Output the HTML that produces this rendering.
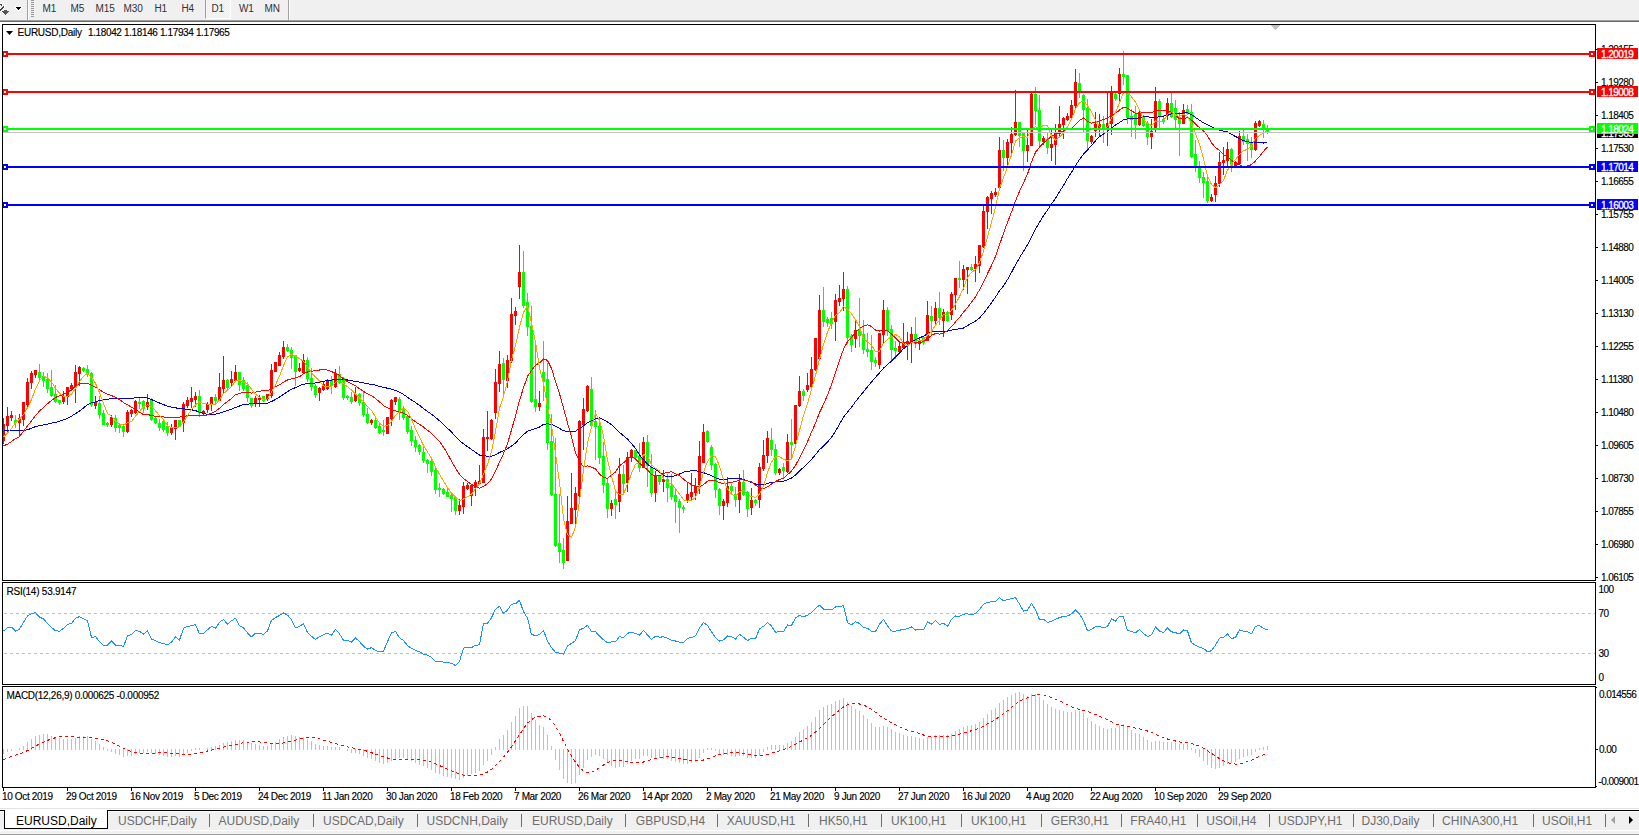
<!DOCTYPE html>
<html><head><meta charset="utf-8"><style>
*{margin:0;padding:0;box-sizing:border-box}
html,body{width:1639px;height:838px;overflow:hidden;background:#fff;font-family:"Liberation Sans", sans-serif;}
.t{position:absolute;white-space:nowrap;line-height:12px;-webkit-text-stroke:0.15px currentColor}
.lb{position:absolute;left:1597px;width:41px;height:11px;color:#fff;font-size:10px;line-height:11px;padding-left:4px;padding-top:1px;letter-spacing:-0.56px;white-space:nowrap;-webkit-text-stroke:0.3px #fff}
#tb{position:absolute;left:0;top:0;width:1639px;height:21px;background:#f0f0f0;border-bottom:1px solid #a0a0a0}
#tb2{position:absolute;left:0;top:21px;width:1639px;height:1px;background:#696969}
.tf{position:absolute;top:0;font-size:10px;line-height:12px;color:#333;letter-spacing:-0.1px}
#tabs{position:absolute;left:0;top:808px;width:1639px;height:30px;background:#f0f0f0}
.tab{position:absolute;top:814px;font-size:12px;line-height:14px;color:#6d6d6d;white-space:nowrap}
.sep{position:absolute;top:814px;width:1px;height:13px;background:#6d6d6d}
</style></head><body>
<div id="tb"></div><div id="tb2"></div>
<div style="position:absolute;left:27px;top:0;width:1px;height:20px;background:#a0a0a0"></div><div style="position:absolute;left:28px;top:0;width:1px;height:20px;background:#fff"></div><div style="position:absolute;left:31px;top:0px;width:3px;height:1px;background:#999"></div><div style="position:absolute;left:31px;top:2px;width:3px;height:1px;background:#999"></div><div style="position:absolute;left:31px;top:4px;width:3px;height:1px;background:#999"></div><div style="position:absolute;left:31px;top:6px;width:3px;height:1px;background:#999"></div><div style="position:absolute;left:31px;top:8px;width:3px;height:1px;background:#999"></div><div style="position:absolute;left:31px;top:10px;width:3px;height:1px;background:#999"></div><div style="position:absolute;left:31px;top:12px;width:3px;height:1px;background:#999"></div><div style="position:absolute;left:31px;top:14px;width:3px;height:1px;background:#999"></div><div style="position:absolute;left:31px;top:16px;width:3px;height:1px;background:#999"></div><div style="position:absolute;left:288px;top:0;width:1px;height:20px;background:#a0a0a0"></div><div style="position:absolute;left:289px;top:0;width:1px;height:20px;background:#fff"></div><div style="position:absolute;left:205px;top:0;width:26px;height:19px;border-left:1px solid #a0a0a0;border-right:1px solid #fff;border-bottom:1px solid #fff;background:repeating-conic-gradient(#f8f8f8 0 25%,#ececec 0 50%) 0 0/2px 2px"></div><div class="tf" style="left:42.5px;top:3px">M1</div><div class="tf" style="left:70.5px;top:3px">M5</div><div class="tf" style="left:95.5px;top:3px">M15</div><div class="tf" style="left:123.5px;top:3px">M30</div><div class="tf" style="left:154.5px;top:3px">H1</div><div class="tf" style="left:181.5px;top:3px">H4</div><div class="tf" style="left:211.5px;top:3px">D1</div><div class="tf" style="left:239.0px;top:3px">W1</div><div class="tf" style="left:264.5px;top:3px">MN</div><svg style="position:absolute;left:0;top:0" width="26" height="20" shape-rendering="crispEdges"><g fill="#fff"><rect x="15" y="6" width="7" height="1"/><rect x="15" y="7" width="1" height="2"/><rect x="21" y="7" width="1" height="2"/><rect x="16" y="9" width="1" height="1"/><rect x="20" y="9" width="1" height="1"/><rect x="17" y="10" width="3" height="1"/></g><g fill="#000"><rect x="16" y="7" width="5" height="1"/><rect x="17" y="8" width="3" height="1"/><rect x="18" y="9" width="1" height="1"/></g><g fill="#fff"><rect x="0" y="3" width="2" height="1"/><rect x="2" y="4" width="1" height="1"/><rect x="4" y="5" width="1" height="3"/></g><g fill="#444"><rect x="0" y="4" width="2" height="1"/><rect x="1" y="5" width="1" height="1"/><rect x="3" y="6" width="1" height="1"/><rect x="2" y="7" width="2" height="1"/><rect x="1" y="8" width="2" height="1"/><rect x="0" y="9" width="2" height="1"/><rect x="0" y="10" width="1" height="1"/></g><g fill="#555"><rect x="4" y="10" width="3" height="1"/><rect x="2" y="11" width="7" height="1"/><rect x="3" y="12" width="5" height="1"/><rect x="4" y="13" width="3" height="1"/><rect x="5" y="14" width="1" height="1"/></g></svg><svg width="1639" height="838" viewBox="0 0 1639 838" style="position:absolute;left:0;top:0"><defs><clipPath id="cm"><rect x="3" y="25" width="1592" height="555"/></clipPath><clipPath id="cr"><rect x="3" y="583" width="1592" height="101"/></clipPath><clipPath id="cd"><rect x="3" y="687" width="1592" height="100"/></clipPath></defs><g clip-path="url(#cm)" shape-rendering="crispEdges"><rect x="3" y="418" width="1" height="26" fill="#ff0000"/><rect x="2" y="424" width="3" height="17" fill="#ff0000"/><rect x="7" y="407" width="1" height="25" fill="#ff0000"/><rect x="6" y="416" width="3" height="10" fill="#ff0000"/><rect x="11" y="411" width="1" height="10" fill="#ff0000"/><rect x="10" y="415" width="3" height="3" fill="#ff0000"/><rect x="15" y="415" width="1" height="13" fill="#00ff00"/><rect x="14" y="420" width="3" height="3" fill="#00ff00"/><rect x="19" y="414" width="1" height="22" fill="#ff0000"/><rect x="18" y="418" width="3" height="5" fill="#ff0000"/><rect x="23" y="402" width="1" height="24" fill="#ff0000"/><rect x="22" y="402" width="3" height="18" fill="#ff0000"/><rect x="27" y="378" width="1" height="29" fill="#ff0000"/><rect x="26" y="382" width="3" height="23" fill="#ff0000"/><rect x="31" y="371" width="1" height="18" fill="#ff0000"/><rect x="30" y="373" width="3" height="10" fill="#ff0000"/><rect x="35" y="370" width="1" height="8" fill="#ff0000"/><rect x="34" y="370" width="3" height="5" fill="#ff0000"/><rect x="39" y="364" width="1" height="17" fill="#00ff00"/><rect x="38" y="372" width="3" height="6" fill="#00ff00"/><rect x="43" y="372" width="1" height="15" fill="#00ff00"/><rect x="42" y="376" width="3" height="5" fill="#00ff00"/><rect x="47" y="373" width="1" height="20" fill="#00ff00"/><rect x="46" y="379" width="3" height="10" fill="#00ff00"/><rect x="51" y="370" width="1" height="27" fill="#00ff00"/><rect x="50" y="387" width="3" height="9" fill="#00ff00"/><rect x="55" y="385" width="1" height="18" fill="#00ff00"/><rect x="54" y="394" width="3" height="8" fill="#00ff00"/><rect x="59" y="400" width="1" height="5" fill="#00ff00"/><rect x="58" y="400" width="3" height="3" fill="#00ff00"/><rect x="63" y="391" width="1" height="13" fill="#ff0000"/><rect x="62" y="396" width="3" height="6" fill="#ff0000"/><rect x="67" y="387" width="1" height="18" fill="#ff0000"/><rect x="66" y="387" width="3" height="10" fill="#ff0000"/><rect x="71" y="383" width="1" height="8" fill="#ff0000"/><rect x="70" y="385" width="3" height="4" fill="#ff0000"/><rect x="75" y="365" width="1" height="38" fill="#ff0000"/><rect x="74" y="372" width="3" height="15" fill="#ff0000"/><rect x="79" y="366" width="1" height="20" fill="#ff0000"/><rect x="78" y="367" width="3" height="7" fill="#ff0000"/><rect x="83" y="367" width="1" height="5" fill="#00ff00"/><rect x="82" y="368" width="3" height="3" fill="#00ff00"/><rect x="87" y="365" width="1" height="12" fill="#00ff00"/><rect x="86" y="369" width="3" height="5" fill="#00ff00"/><rect x="91" y="372" width="1" height="35" fill="#00ff00"/><rect x="90" y="373" width="3" height="32" fill="#00ff00"/><rect x="95" y="396" width="1" height="13" fill="#ff0000"/><rect x="94" y="402" width="3" height="4" fill="#ff0000"/><rect x="99" y="396" width="1" height="23" fill="#00ff00"/><rect x="98" y="403" width="3" height="12" fill="#00ff00"/><rect x="103" y="410" width="1" height="15" fill="#00ff00"/><rect x="102" y="413" width="3" height="12" fill="#00ff00"/><rect x="107" y="422" width="1" height="5" fill="#00ff00"/><rect x="106" y="423" width="3" height="2" fill="#00ff00"/><rect x="111" y="415" width="1" height="12" fill="#ff0000"/><rect x="110" y="417" width="3" height="8" fill="#ff0000"/><rect x="115" y="415" width="1" height="17" fill="#00ff00"/><rect x="114" y="418" width="3" height="10" fill="#00ff00"/><rect x="119" y="423" width="1" height="10" fill="#00ff00"/><rect x="118" y="425" width="3" height="3" fill="#00ff00"/><rect x="123" y="424" width="1" height="13" fill="#00ff00"/><rect x="122" y="426" width="3" height="6" fill="#00ff00"/><rect x="127" y="410" width="1" height="23" fill="#ff0000"/><rect x="126" y="412" width="3" height="20" fill="#ff0000"/><rect x="131" y="409" width="1" height="8" fill="#ff0000"/><rect x="130" y="410" width="3" height="4" fill="#ff0000"/><rect x="135" y="400" width="1" height="14" fill="#ff0000"/><rect x="134" y="401" width="3" height="12" fill="#ff0000"/><rect x="139" y="398" width="1" height="11" fill="#00ff00"/><rect x="138" y="402" width="3" height="2" fill="#00ff00"/><rect x="143" y="400" width="1" height="13" fill="#00ff00"/><rect x="142" y="401" width="3" height="8" fill="#00ff00"/><rect x="147" y="394" width="1" height="16" fill="#ff0000"/><rect x="146" y="402" width="3" height="5" fill="#ff0000"/><rect x="151" y="398" width="1" height="23" fill="#00ff00"/><rect x="150" y="399" width="3" height="21" fill="#00ff00"/><rect x="155" y="417" width="1" height="7" fill="#00ff00"/><rect x="154" y="418" width="3" height="5" fill="#00ff00"/><rect x="159" y="419" width="1" height="12" fill="#00ff00"/><rect x="158" y="423" width="3" height="5" fill="#00ff00"/><rect x="163" y="419" width="1" height="13" fill="#00ff00"/><rect x="162" y="421" width="3" height="9" fill="#00ff00"/><rect x="167" y="422" width="1" height="14" fill="#00ff00"/><rect x="166" y="426" width="3" height="7" fill="#00ff00"/><rect x="171" y="424" width="1" height="11" fill="#ff0000"/><rect x="170" y="428" width="3" height="5" fill="#ff0000"/><rect x="175" y="420" width="1" height="20" fill="#ff0000"/><rect x="174" y="420" width="3" height="9" fill="#ff0000"/><rect x="179" y="420" width="1" height="7" fill="#00ff00"/><rect x="178" y="420" width="3" height="7" fill="#00ff00"/><rect x="183" y="402" width="1" height="30" fill="#ff0000"/><rect x="182" y="404" width="3" height="19" fill="#ff0000"/><rect x="187" y="397" width="1" height="11" fill="#ff0000"/><rect x="186" y="400" width="3" height="6" fill="#ff0000"/><rect x="191" y="387" width="1" height="21" fill="#ff0000"/><rect x="190" y="398" width="3" height="4" fill="#ff0000"/><rect x="195" y="392" width="1" height="15" fill="#ff0000"/><rect x="194" y="396" width="3" height="4" fill="#ff0000"/><rect x="199" y="390" width="1" height="27" fill="#00ff00"/><rect x="198" y="396" width="3" height="17" fill="#00ff00"/><rect x="203" y="410" width="1" height="5" fill="#ff0000"/><rect x="202" y="411" width="3" height="3" fill="#ff0000"/><rect x="207" y="402" width="1" height="11" fill="#ff0000"/><rect x="206" y="404" width="3" height="6" fill="#ff0000"/><rect x="211" y="397" width="1" height="14" fill="#ff0000"/><rect x="210" y="397" width="3" height="8" fill="#ff0000"/><rect x="215" y="394" width="1" height="11" fill="#00ff00"/><rect x="214" y="397" width="3" height="4" fill="#00ff00"/><rect x="219" y="373" width="1" height="28" fill="#ff0000"/><rect x="218" y="387" width="3" height="14" fill="#ff0000"/><rect x="223" y="356" width="1" height="38" fill="#ff0000"/><rect x="222" y="380" width="3" height="9" fill="#ff0000"/><rect x="227" y="379" width="1" height="12" fill="#00ff00"/><rect x="226" y="380" width="3" height="8" fill="#00ff00"/><rect x="231" y="371" width="1" height="16" fill="#ff0000"/><rect x="230" y="379" width="3" height="4" fill="#ff0000"/><rect x="235" y="365" width="1" height="17" fill="#ff0000"/><rect x="234" y="372" width="3" height="9" fill="#ff0000"/><rect x="239" y="372" width="1" height="19" fill="#00ff00"/><rect x="238" y="372" width="3" height="13" fill="#00ff00"/><rect x="243" y="377" width="1" height="14" fill="#00ff00"/><rect x="242" y="380" width="3" height="9" fill="#00ff00"/><rect x="247" y="382" width="1" height="20" fill="#00ff00"/><rect x="246" y="385" width="3" height="13" fill="#00ff00"/><rect x="251" y="398" width="1" height="10" fill="#00ff00"/><rect x="250" y="398" width="3" height="8" fill="#00ff00"/><rect x="255" y="396" width="1" height="11" fill="#ff0000"/><rect x="254" y="398" width="3" height="5" fill="#ff0000"/><rect x="259" y="395" width="1" height="12" fill="#ff0000"/><rect x="258" y="398" width="3" height="2" fill="#ff0000"/><rect x="263" y="396" width="1" height="6" fill="#00ff00"/><rect x="262" y="396" width="3" height="5" fill="#00ff00"/><rect x="267" y="394" width="1" height="7" fill="#ff0000"/><rect x="266" y="394" width="3" height="5" fill="#ff0000"/><rect x="271" y="364" width="1" height="34" fill="#ff0000"/><rect x="270" y="370" width="3" height="26" fill="#ff0000"/><rect x="275" y="362" width="1" height="10" fill="#ff0000"/><rect x="274" y="362" width="3" height="10" fill="#ff0000"/><rect x="279" y="352" width="1" height="14" fill="#ff0000"/><rect x="278" y="355" width="3" height="11" fill="#ff0000"/><rect x="283" y="341" width="1" height="18" fill="#ff0000"/><rect x="282" y="347" width="3" height="10" fill="#ff0000"/><rect x="287" y="344" width="1" height="8" fill="#00ff00"/><rect x="286" y="347" width="3" height="4" fill="#00ff00"/><rect x="291" y="347" width="1" height="22" fill="#00ff00"/><rect x="290" y="350" width="3" height="8" fill="#00ff00"/><rect x="295" y="355" width="1" height="31" fill="#00ff00"/><rect x="294" y="355" width="3" height="17" fill="#00ff00"/><rect x="299" y="363" width="1" height="9" fill="#ff0000"/><rect x="298" y="368" width="3" height="3" fill="#ff0000"/><rect x="303" y="354" width="1" height="20" fill="#ff0000"/><rect x="302" y="360" width="3" height="13" fill="#ff0000"/><rect x="307" y="357" width="1" height="25" fill="#00ff00"/><rect x="306" y="360" width="3" height="19" fill="#00ff00"/><rect x="311" y="368" width="1" height="23" fill="#00ff00"/><rect x="310" y="378" width="3" height="9" fill="#00ff00"/><rect x="315" y="384" width="1" height="14" fill="#00ff00"/><rect x="314" y="386" width="3" height="9" fill="#00ff00"/><rect x="319" y="387" width="1" height="14" fill="#ff0000"/><rect x="318" y="388" width="3" height="5" fill="#ff0000"/><rect x="323" y="382" width="1" height="9" fill="#ff0000"/><rect x="322" y="384" width="3" height="6" fill="#ff0000"/><rect x="327" y="379" width="1" height="11" fill="#ff0000"/><rect x="326" y="381" width="3" height="8" fill="#ff0000"/><rect x="331" y="376" width="1" height="18" fill="#00ff00"/><rect x="330" y="380" width="3" height="6" fill="#00ff00"/><rect x="335" y="369" width="1" height="19" fill="#ff0000"/><rect x="334" y="373" width="3" height="14" fill="#ff0000"/><rect x="339" y="366" width="1" height="18" fill="#00ff00"/><rect x="338" y="374" width="3" height="9" fill="#00ff00"/><rect x="343" y="377" width="1" height="23" fill="#00ff00"/><rect x="342" y="378" width="3" height="20" fill="#00ff00"/><rect x="347" y="395" width="1" height="5" fill="#00ff00"/><rect x="346" y="396" width="3" height="2" fill="#00ff00"/><rect x="351" y="392" width="1" height="12" fill="#00ff00"/><rect x="350" y="397" width="3" height="5" fill="#00ff00"/><rect x="355" y="387" width="1" height="15" fill="#ff0000"/><rect x="354" y="394" width="3" height="7" fill="#ff0000"/><rect x="359" y="393" width="1" height="13" fill="#00ff00"/><rect x="358" y="394" width="3" height="9" fill="#00ff00"/><rect x="363" y="391" width="1" height="26" fill="#00ff00"/><rect x="362" y="402" width="3" height="13" fill="#00ff00"/><rect x="367" y="408" width="1" height="16" fill="#00ff00"/><rect x="366" y="414" width="3" height="9" fill="#00ff00"/><rect x="371" y="419" width="1" height="6" fill="#ff0000"/><rect x="370" y="420" width="3" height="3" fill="#ff0000"/><rect x="375" y="418" width="1" height="11" fill="#00ff00"/><rect x="374" y="420" width="3" height="8" fill="#00ff00"/><rect x="379" y="423" width="1" height="11" fill="#00ff00"/><rect x="378" y="426" width="3" height="7" fill="#00ff00"/><rect x="383" y="420" width="1" height="16" fill="#00ff00"/><rect x="382" y="430" width="3" height="2" fill="#00ff00"/><rect x="387" y="417" width="1" height="17" fill="#ff0000"/><rect x="386" y="417" width="3" height="17" fill="#ff0000"/><rect x="391" y="399" width="1" height="27" fill="#ff0000"/><rect x="390" y="400" width="3" height="19" fill="#ff0000"/><rect x="395" y="397" width="1" height="8" fill="#ff0000"/><rect x="394" y="397" width="3" height="5" fill="#ff0000"/><rect x="399" y="397" width="1" height="23" fill="#00ff00"/><rect x="398" y="399" width="3" height="13" fill="#00ff00"/><rect x="403" y="406" width="1" height="14" fill="#00ff00"/><rect x="402" y="409" width="3" height="9" fill="#00ff00"/><rect x="407" y="415" width="1" height="19" fill="#00ff00"/><rect x="406" y="416" width="3" height="16" fill="#00ff00"/><rect x="411" y="426" width="1" height="20" fill="#00ff00"/><rect x="410" y="430" width="3" height="11" fill="#00ff00"/><rect x="415" y="436" width="1" height="16" fill="#00ff00"/><rect x="414" y="440" width="3" height="7" fill="#00ff00"/><rect x="419" y="444" width="1" height="11" fill="#00ff00"/><rect x="418" y="445" width="3" height="7" fill="#00ff00"/><rect x="423" y="447" width="1" height="16" fill="#00ff00"/><rect x="422" y="452" width="3" height="9" fill="#00ff00"/><rect x="427" y="459" width="1" height="14" fill="#00ff00"/><rect x="426" y="460" width="3" height="4" fill="#00ff00"/><rect x="431" y="458" width="1" height="18" fill="#00ff00"/><rect x="430" y="461" width="3" height="11" fill="#00ff00"/><rect x="435" y="468" width="1" height="26" fill="#00ff00"/><rect x="434" y="470" width="3" height="20" fill="#00ff00"/><rect x="439" y="483" width="1" height="14" fill="#00ff00"/><rect x="438" y="488" width="3" height="2" fill="#00ff00"/><rect x="443" y="488" width="1" height="7" fill="#00ff00"/><rect x="442" y="489" width="3" height="5" fill="#00ff00"/><rect x="447" y="487" width="1" height="10" fill="#00ff00"/><rect x="446" y="492" width="3" height="5" fill="#00ff00"/><rect x="451" y="493" width="1" height="19" fill="#00ff00"/><rect x="450" y="495" width="3" height="4" fill="#00ff00"/><rect x="455" y="496" width="1" height="19" fill="#00ff00"/><rect x="454" y="497" width="3" height="14" fill="#00ff00"/><rect x="459" y="499" width="1" height="16" fill="#ff0000"/><rect x="458" y="505" width="3" height="6" fill="#ff0000"/><rect x="463" y="482" width="1" height="32" fill="#ff0000"/><rect x="462" y="486" width="3" height="21" fill="#ff0000"/><rect x="467" y="483" width="1" height="7" fill="#ff0000"/><rect x="466" y="485" width="3" height="4" fill="#ff0000"/><rect x="471" y="484" width="1" height="22" fill="#ff0000"/><rect x="470" y="485" width="3" height="11" fill="#ff0000"/><rect x="475" y="480" width="1" height="16" fill="#ff0000"/><rect x="474" y="482" width="3" height="6" fill="#ff0000"/><rect x="479" y="465" width="1" height="19" fill="#ff0000"/><rect x="478" y="481" width="3" height="3" fill="#ff0000"/><rect x="483" y="429" width="1" height="54" fill="#ff0000"/><rect x="482" y="437" width="3" height="46" fill="#ff0000"/><rect x="487" y="411" width="1" height="40" fill="#ff0000"/><rect x="486" y="437" width="3" height="2" fill="#ff0000"/><rect x="491" y="419" width="1" height="21" fill="#ff0000"/><rect x="490" y="420" width="3" height="19" fill="#ff0000"/><rect x="495" y="369" width="1" height="50" fill="#ff0000"/><rect x="494" y="382" width="3" height="31" fill="#ff0000"/><rect x="499" y="351" width="1" height="41" fill="#ff0000"/><rect x="498" y="364" width="3" height="20" fill="#ff0000"/><rect x="503" y="358" width="1" height="38" fill="#00ff00"/><rect x="502" y="363" width="3" height="17" fill="#00ff00"/><rect x="507" y="355" width="1" height="33" fill="#ff0000"/><rect x="506" y="360" width="3" height="21" fill="#ff0000"/><rect x="511" y="298" width="1" height="65" fill="#ff0000"/><rect x="510" y="314" width="3" height="47" fill="#ff0000"/><rect x="515" y="307" width="1" height="18" fill="#ff0000"/><rect x="514" y="311" width="3" height="5" fill="#ff0000"/><rect x="519" y="245" width="1" height="54" fill="#ff0000"/><rect x="518" y="272" width="3" height="15" fill="#ff0000"/><rect x="523" y="251" width="1" height="57" fill="#00ff00"/><rect x="522" y="272" width="3" height="34" fill="#00ff00"/><rect x="527" y="293" width="1" height="43" fill="#00ff00"/><rect x="526" y="302" width="3" height="25" fill="#00ff00"/><rect x="531" y="306" width="1" height="97" fill="#00ff00"/><rect x="530" y="326" width="3" height="76" fill="#00ff00"/><rect x="535" y="345" width="1" height="67" fill="#00ff00"/><rect x="534" y="399" width="3" height="8" fill="#00ff00"/><rect x="539" y="391" width="1" height="20" fill="#ff0000"/><rect x="538" y="403" width="3" height="4" fill="#ff0000"/><rect x="543" y="341" width="1" height="60" fill="#00ff00"/><rect x="542" y="372" width="3" height="10" fill="#00ff00"/><rect x="547" y="363" width="1" height="87" fill="#00ff00"/><rect x="546" y="379" width="3" height="64" fill="#00ff00"/><rect x="551" y="414" width="1" height="82" fill="#00ff00"/><rect x="550" y="441" width="3" height="54" fill="#00ff00"/><rect x="555" y="438" width="1" height="109" fill="#00ff00"/><rect x="554" y="494" width="3" height="52" fill="#00ff00"/><rect x="559" y="494" width="1" height="69" fill="#00ff00"/><rect x="558" y="543" width="3" height="9" fill="#00ff00"/><rect x="563" y="538" width="1" height="31" fill="#00ff00"/><rect x="562" y="550" width="3" height="13" fill="#00ff00"/><rect x="567" y="496" width="1" height="65" fill="#ff0000"/><rect x="566" y="521" width="3" height="40" fill="#ff0000"/><rect x="571" y="473" width="1" height="51" fill="#ff0000"/><rect x="570" y="508" width="3" height="16" fill="#ff0000"/><rect x="575" y="487" width="1" height="38" fill="#ff0000"/><rect x="574" y="493" width="3" height="17" fill="#ff0000"/><rect x="579" y="420" width="1" height="78" fill="#ff0000"/><rect x="578" y="421" width="3" height="75" fill="#ff0000"/><rect x="583" y="398" width="1" height="52" fill="#ff0000"/><rect x="582" y="409" width="3" height="16" fill="#ff0000"/><rect x="587" y="385" width="1" height="27" fill="#ff0000"/><rect x="586" y="386" width="3" height="25" fill="#ff0000"/><rect x="591" y="377" width="1" height="50" fill="#00ff00"/><rect x="590" y="389" width="3" height="37" fill="#00ff00"/><rect x="595" y="410" width="1" height="50" fill="#00ff00"/><rect x="594" y="421" width="3" height="6" fill="#00ff00"/><rect x="599" y="418" width="1" height="46" fill="#00ff00"/><rect x="598" y="426" width="3" height="32" fill="#00ff00"/><rect x="603" y="442" width="1" height="51" fill="#00ff00"/><rect x="602" y="456" width="3" height="29" fill="#00ff00"/><rect x="607" y="479" width="1" height="39" fill="#00ff00"/><rect x="606" y="483" width="3" height="26" fill="#00ff00"/><rect x="611" y="500" width="1" height="16" fill="#ff0000"/><rect x="610" y="503" width="3" height="6" fill="#ff0000"/><rect x="615" y="492" width="1" height="27" fill="#00ff00"/><rect x="614" y="499" width="3" height="6" fill="#00ff00"/><rect x="619" y="458" width="1" height="54" fill="#ff0000"/><rect x="618" y="474" width="3" height="28" fill="#ff0000"/><rect x="623" y="465" width="1" height="28" fill="#00ff00"/><rect x="622" y="474" width="3" height="10" fill="#00ff00"/><rect x="627" y="452" width="1" height="40" fill="#ff0000"/><rect x="626" y="457" width="3" height="26" fill="#ff0000"/><rect x="631" y="449" width="1" height="13" fill="#ff0000"/><rect x="630" y="450" width="3" height="8" fill="#ff0000"/><rect x="635" y="450" width="1" height="8" fill="#00ff00"/><rect x="634" y="450" width="3" height="8" fill="#00ff00"/><rect x="639" y="443" width="1" height="29" fill="#00ff00"/><rect x="638" y="456" width="3" height="12" fill="#00ff00"/><rect x="643" y="437" width="1" height="31" fill="#ff0000"/><rect x="642" y="442" width="3" height="26" fill="#ff0000"/><rect x="647" y="435" width="1" height="52" fill="#00ff00"/><rect x="646" y="442" width="3" height="24" fill="#00ff00"/><rect x="651" y="454" width="1" height="43" fill="#00ff00"/><rect x="650" y="467" width="3" height="26" fill="#00ff00"/><rect x="655" y="471" width="1" height="31" fill="#ff0000"/><rect x="654" y="475" width="3" height="18" fill="#ff0000"/><rect x="659" y="475" width="1" height="10" fill="#00ff00"/><rect x="658" y="476" width="3" height="6" fill="#00ff00"/><rect x="663" y="470" width="1" height="22" fill="#ff0000"/><rect x="662" y="479" width="3" height="3" fill="#ff0000"/><rect x="667" y="474" width="1" height="28" fill="#00ff00"/><rect x="666" y="479" width="3" height="9" fill="#00ff00"/><rect x="671" y="474" width="1" height="26" fill="#00ff00"/><rect x="670" y="486" width="3" height="11" fill="#00ff00"/><rect x="675" y="490" width="1" height="33" fill="#00ff00"/><rect x="674" y="495" width="3" height="7" fill="#00ff00"/><rect x="679" y="499" width="1" height="34" fill="#00ff00"/><rect x="678" y="501" width="3" height="7" fill="#00ff00"/><rect x="683" y="505" width="1" height="8" fill="#00ff00"/><rect x="682" y="507" width="3" height="2" fill="#00ff00"/><rect x="687" y="482" width="1" height="21" fill="#ff0000"/><rect x="686" y="494" width="3" height="7" fill="#ff0000"/><rect x="691" y="473" width="1" height="28" fill="#ff0000"/><rect x="690" y="492" width="3" height="5" fill="#ff0000"/><rect x="695" y="478" width="1" height="22" fill="#ff0000"/><rect x="694" y="486" width="3" height="7" fill="#ff0000"/><rect x="699" y="441" width="1" height="53" fill="#ff0000"/><rect x="698" y="456" width="3" height="29" fill="#ff0000"/><rect x="703" y="424" width="1" height="39" fill="#ff0000"/><rect x="702" y="432" width="3" height="31" fill="#ff0000"/><rect x="707" y="430" width="1" height="13" fill="#00ff00"/><rect x="706" y="431" width="3" height="11" fill="#00ff00"/><rect x="711" y="445" width="1" height="25" fill="#00ff00"/><rect x="710" y="447" width="3" height="18" fill="#00ff00"/><rect x="715" y="463" width="1" height="35" fill="#00ff00"/><rect x="714" y="464" width="3" height="26" fill="#00ff00"/><rect x="719" y="488" width="1" height="27" fill="#00ff00"/><rect x="718" y="489" width="3" height="17" fill="#00ff00"/><rect x="723" y="499" width="1" height="21" fill="#ff0000"/><rect x="722" y="501" width="3" height="5" fill="#ff0000"/><rect x="727" y="477" width="1" height="30" fill="#ff0000"/><rect x="726" y="486" width="3" height="17" fill="#ff0000"/><rect x="731" y="484" width="1" height="9" fill="#00ff00"/><rect x="730" y="486" width="3" height="5" fill="#00ff00"/><rect x="735" y="487" width="1" height="20" fill="#00ff00"/><rect x="734" y="494" width="3" height="6" fill="#00ff00"/><rect x="739" y="474" width="1" height="39" fill="#ff0000"/><rect x="738" y="482" width="3" height="18" fill="#ff0000"/><rect x="743" y="470" width="1" height="26" fill="#00ff00"/><rect x="742" y="482" width="3" height="13" fill="#00ff00"/><rect x="747" y="491" width="1" height="26" fill="#00ff00"/><rect x="746" y="492" width="3" height="17" fill="#00ff00"/><rect x="751" y="488" width="1" height="27" fill="#ff0000"/><rect x="750" y="500" width="3" height="8" fill="#ff0000"/><rect x="755" y="499" width="1" height="7" fill="#00ff00"/><rect x="754" y="500" width="3" height="3" fill="#00ff00"/><rect x="759" y="463" width="1" height="45" fill="#ff0000"/><rect x="758" y="467" width="3" height="33" fill="#ff0000"/><rect x="763" y="440" width="1" height="31" fill="#ff0000"/><rect x="762" y="455" width="3" height="14" fill="#ff0000"/><rect x="767" y="431" width="1" height="32" fill="#ff0000"/><rect x="766" y="438" width="3" height="18" fill="#ff0000"/><rect x="771" y="428" width="1" height="28" fill="#00ff00"/><rect x="770" y="440" width="3" height="10" fill="#00ff00"/><rect x="775" y="444" width="1" height="31" fill="#00ff00"/><rect x="774" y="449" width="3" height="24" fill="#00ff00"/><rect x="779" y="468" width="1" height="7" fill="#ff0000"/><rect x="778" y="469" width="3" height="4" fill="#ff0000"/><rect x="783" y="463" width="1" height="16" fill="#00ff00"/><rect x="782" y="467" width="3" height="4" fill="#00ff00"/><rect x="787" y="434" width="1" height="39" fill="#ff0000"/><rect x="786" y="442" width="3" height="30" fill="#ff0000"/><rect x="791" y="419" width="1" height="39" fill="#00ff00"/><rect x="790" y="442" width="3" height="3" fill="#00ff00"/><rect x="795" y="405" width="1" height="40" fill="#ff0000"/><rect x="794" y="405" width="3" height="39" fill="#ff0000"/><rect x="799" y="376" width="1" height="31" fill="#ff0000"/><rect x="798" y="391" width="3" height="15" fill="#ff0000"/><rect x="803" y="389" width="1" height="12" fill="#00ff00"/><rect x="802" y="391" width="3" height="5" fill="#00ff00"/><rect x="807" y="373" width="1" height="19" fill="#ff0000"/><rect x="806" y="385" width="3" height="5" fill="#ff0000"/><rect x="811" y="357" width="1" height="30" fill="#ff0000"/><rect x="810" y="369" width="3" height="18" fill="#ff0000"/><rect x="815" y="338" width="1" height="33" fill="#ff0000"/><rect x="814" y="338" width="3" height="32" fill="#ff0000"/><rect x="819" y="295" width="1" height="64" fill="#ff0000"/><rect x="818" y="310" width="3" height="49" fill="#ff0000"/><rect x="823" y="287" width="1" height="40" fill="#00ff00"/><rect x="822" y="310" width="3" height="12" fill="#00ff00"/><rect x="827" y="317" width="1" height="10" fill="#00ff00"/><rect x="826" y="319" width="3" height="4" fill="#00ff00"/><rect x="831" y="312" width="1" height="17" fill="#00ff00"/><rect x="830" y="318" width="3" height="6" fill="#00ff00"/><rect x="835" y="294" width="1" height="47" fill="#ff0000"/><rect x="834" y="300" width="3" height="22" fill="#ff0000"/><rect x="839" y="285" width="1" height="21" fill="#ff0000"/><rect x="838" y="298" width="3" height="4" fill="#ff0000"/><rect x="843" y="272" width="1" height="39" fill="#ff0000"/><rect x="842" y="289" width="3" height="10" fill="#ff0000"/><rect x="847" y="286" width="1" height="58" fill="#00ff00"/><rect x="846" y="289" width="3" height="49" fill="#00ff00"/><rect x="851" y="334" width="1" height="18" fill="#00ff00"/><rect x="850" y="336" width="3" height="9" fill="#00ff00"/><rect x="855" y="321" width="1" height="27" fill="#ff0000"/><rect x="854" y="330" width="3" height="9" fill="#ff0000"/><rect x="859" y="298" width="1" height="49" fill="#00ff00"/><rect x="858" y="329" width="3" height="7" fill="#00ff00"/><rect x="863" y="320" width="1" height="34" fill="#00ff00"/><rect x="862" y="334" width="3" height="16" fill="#00ff00"/><rect x="867" y="333" width="1" height="24" fill="#00ff00"/><rect x="866" y="349" width="3" height="3" fill="#00ff00"/><rect x="871" y="335" width="1" height="35" fill="#00ff00"/><rect x="870" y="350" width="3" height="12" fill="#00ff00"/><rect x="875" y="357" width="1" height="10" fill="#00ff00"/><rect x="874" y="360" width="3" height="3" fill="#00ff00"/><rect x="879" y="333" width="1" height="36" fill="#ff0000"/><rect x="878" y="333" width="3" height="32" fill="#ff0000"/><rect x="883" y="300" width="1" height="44" fill="#ff0000"/><rect x="882" y="310" width="3" height="25" fill="#ff0000"/><rect x="887" y="307" width="1" height="29" fill="#00ff00"/><rect x="886" y="310" width="3" height="21" fill="#00ff00"/><rect x="891" y="325" width="1" height="35" fill="#00ff00"/><rect x="890" y="329" width="3" height="21" fill="#00ff00"/><rect x="895" y="341" width="1" height="18" fill="#00ff00"/><rect x="894" y="348" width="3" height="3" fill="#00ff00"/><rect x="899" y="342" width="1" height="11" fill="#ff0000"/><rect x="898" y="346" width="3" height="6" fill="#ff0000"/><rect x="903" y="323" width="1" height="25" fill="#ff0000"/><rect x="902" y="343" width="3" height="5" fill="#ff0000"/><rect x="907" y="332" width="1" height="28" fill="#ff0000"/><rect x="906" y="341" width="3" height="3" fill="#ff0000"/><rect x="911" y="327" width="1" height="36" fill="#ff0000"/><rect x="910" y="334" width="3" height="9" fill="#ff0000"/><rect x="915" y="317" width="1" height="31" fill="#00ff00"/><rect x="914" y="334" width="3" height="10" fill="#00ff00"/><rect x="919" y="338" width="1" height="12" fill="#ff0000"/><rect x="918" y="340" width="3" height="4" fill="#ff0000"/><rect x="923" y="336" width="1" height="9" fill="#00ff00"/><rect x="922" y="337" width="3" height="6" fill="#00ff00"/><rect x="927" y="301" width="1" height="40" fill="#ff0000"/><rect x="926" y="315" width="3" height="26" fill="#ff0000"/><rect x="931" y="306" width="1" height="30" fill="#00ff00"/><rect x="930" y="316" width="3" height="5" fill="#00ff00"/><rect x="935" y="302" width="1" height="23" fill="#ff0000"/><rect x="934" y="308" width="3" height="13" fill="#ff0000"/><rect x="939" y="292" width="1" height="33" fill="#00ff00"/><rect x="938" y="308" width="3" height="10" fill="#00ff00"/><rect x="943" y="309" width="1" height="28" fill="#ff0000"/><rect x="942" y="312" width="3" height="9" fill="#ff0000"/><rect x="947" y="311" width="1" height="11" fill="#00ff00"/><rect x="946" y="312" width="3" height="9" fill="#00ff00"/><rect x="951" y="292" width="1" height="28" fill="#ff0000"/><rect x="950" y="294" width="3" height="21" fill="#ff0000"/><rect x="955" y="278" width="1" height="32" fill="#ff0000"/><rect x="954" y="278" width="3" height="17" fill="#ff0000"/><rect x="959" y="261" width="1" height="27" fill="#00ff00"/><rect x="958" y="278" width="3" height="2" fill="#00ff00"/><rect x="963" y="265" width="1" height="25" fill="#ff0000"/><rect x="962" y="269" width="3" height="11" fill="#ff0000"/><rect x="967" y="267" width="1" height="27" fill="#ff0000"/><rect x="966" y="267" width="3" height="3" fill="#ff0000"/><rect x="971" y="264" width="1" height="7" fill="#00ff00"/><rect x="970" y="267" width="3" height="3" fill="#00ff00"/><rect x="975" y="256" width="1" height="26" fill="#ff0000"/><rect x="974" y="264" width="3" height="5" fill="#ff0000"/><rect x="979" y="245" width="1" height="28" fill="#ff0000"/><rect x="978" y="245" width="3" height="21" fill="#ff0000"/><rect x="983" y="206" width="1" height="42" fill="#ff0000"/><rect x="982" y="211" width="3" height="36" fill="#ff0000"/><rect x="987" y="196" width="1" height="33" fill="#ff0000"/><rect x="986" y="197" width="3" height="15" fill="#ff0000"/><rect x="991" y="191" width="1" height="23" fill="#ff0000"/><rect x="990" y="193" width="3" height="6" fill="#ff0000"/><rect x="995" y="188" width="1" height="9" fill="#ff0000"/><rect x="994" y="192" width="3" height="3" fill="#ff0000"/><rect x="999" y="137" width="1" height="51" fill="#ff0000"/><rect x="998" y="150" width="3" height="38" fill="#ff0000"/><rect x="1003" y="140" width="1" height="31" fill="#00ff00"/><rect x="1002" y="150" width="3" height="8" fill="#00ff00"/><rect x="1007" y="139" width="1" height="27" fill="#ff0000"/><rect x="1006" y="142" width="3" height="16" fill="#ff0000"/><rect x="1011" y="127" width="1" height="28" fill="#ff0000"/><rect x="1010" y="134" width="3" height="9" fill="#ff0000"/><rect x="1015" y="90" width="1" height="46" fill="#ff0000"/><rect x="1014" y="122" width="3" height="13" fill="#ff0000"/><rect x="1019" y="122" width="1" height="25" fill="#00ff00"/><rect x="1018" y="122" width="3" height="14" fill="#00ff00"/><rect x="1023" y="132" width="1" height="39" fill="#00ff00"/><rect x="1022" y="133" width="3" height="18" fill="#00ff00"/><rect x="1027" y="129" width="1" height="33" fill="#ff0000"/><rect x="1026" y="145" width="3" height="6" fill="#ff0000"/><rect x="1031" y="93" width="1" height="53" fill="#ff0000"/><rect x="1030" y="94" width="3" height="52" fill="#ff0000"/><rect x="1035" y="87" width="1" height="38" fill="#00ff00"/><rect x="1034" y="94" width="3" height="17" fill="#00ff00"/><rect x="1039" y="95" width="1" height="53" fill="#00ff00"/><rect x="1038" y="110" width="3" height="31" fill="#00ff00"/><rect x="1043" y="136" width="1" height="9" fill="#ff0000"/><rect x="1042" y="138" width="3" height="4" fill="#ff0000"/><rect x="1047" y="132" width="1" height="22" fill="#00ff00"/><rect x="1046" y="139" width="3" height="9" fill="#00ff00"/><rect x="1051" y="130" width="1" height="31" fill="#ff0000"/><rect x="1050" y="144" width="3" height="4" fill="#ff0000"/><rect x="1055" y="124" width="1" height="41" fill="#ff0000"/><rect x="1054" y="132" width="3" height="13" fill="#ff0000"/><rect x="1059" y="106" width="1" height="31" fill="#ff0000"/><rect x="1058" y="124" width="3" height="10" fill="#ff0000"/><rect x="1063" y="117" width="1" height="22" fill="#ff0000"/><rect x="1062" y="118" width="3" height="7" fill="#ff0000"/><rect x="1067" y="113" width="1" height="8" fill="#ff0000"/><rect x="1066" y="116" width="3" height="4" fill="#ff0000"/><rect x="1071" y="100" width="1" height="19" fill="#ff0000"/><rect x="1070" y="105" width="3" height="13" fill="#ff0000"/><rect x="1075" y="69" width="1" height="41" fill="#ff0000"/><rect x="1074" y="82" width="3" height="24" fill="#ff0000"/><rect x="1079" y="73" width="1" height="25" fill="#00ff00"/><rect x="1078" y="83" width="3" height="10" fill="#00ff00"/><rect x="1083" y="94" width="1" height="38" fill="#00ff00"/><rect x="1082" y="95" width="3" height="15" fill="#00ff00"/><rect x="1087" y="99" width="1" height="50" fill="#00ff00"/><rect x="1086" y="108" width="3" height="33" fill="#00ff00"/><rect x="1091" y="135" width="1" height="9" fill="#ff0000"/><rect x="1090" y="136" width="3" height="6" fill="#ff0000"/><rect x="1095" y="112" width="1" height="25" fill="#ff0000"/><rect x="1094" y="124" width="3" height="7" fill="#ff0000"/><rect x="1099" y="114" width="1" height="23" fill="#ff0000"/><rect x="1098" y="124" width="3" height="5" fill="#ff0000"/><rect x="1103" y="116" width="1" height="27" fill="#00ff00"/><rect x="1102" y="124" width="3" height="4" fill="#00ff00"/><rect x="1107" y="93" width="1" height="53" fill="#ff0000"/><rect x="1106" y="123" width="3" height="6" fill="#ff0000"/><rect x="1111" y="86" width="1" height="49" fill="#ff0000"/><rect x="1110" y="92" width="3" height="32" fill="#ff0000"/><rect x="1115" y="93" width="1" height="8" fill="#00ff00"/><rect x="1114" y="94" width="3" height="5" fill="#00ff00"/><rect x="1119" y="68" width="1" height="33" fill="#ff0000"/><rect x="1118" y="74" width="3" height="20" fill="#ff0000"/><rect x="1123" y="51" width="1" height="34" fill="#00ff00"/><rect x="1122" y="74" width="3" height="3" fill="#00ff00"/><rect x="1127" y="75" width="1" height="49" fill="#00ff00"/><rect x="1126" y="75" width="3" height="43" fill="#00ff00"/><rect x="1131" y="109" width="1" height="28" fill="#00ff00"/><rect x="1130" y="116" width="3" height="4" fill="#00ff00"/><rect x="1135" y="106" width="1" height="33" fill="#00ff00"/><rect x="1134" y="114" width="3" height="11" fill="#00ff00"/><rect x="1139" y="111" width="1" height="15" fill="#ff0000"/><rect x="1138" y="112" width="3" height="13" fill="#ff0000"/><rect x="1143" y="115" width="1" height="12" fill="#00ff00"/><rect x="1142" y="116" width="3" height="10" fill="#00ff00"/><rect x="1147" y="121" width="1" height="24" fill="#00ff00"/><rect x="1146" y="123" width="3" height="14" fill="#00ff00"/><rect x="1151" y="119" width="1" height="30" fill="#ff0000"/><rect x="1150" y="131" width="3" height="6" fill="#ff0000"/><rect x="1155" y="87" width="1" height="46" fill="#ff0000"/><rect x="1154" y="101" width="3" height="28" fill="#ff0000"/><rect x="1159" y="99" width="1" height="30" fill="#00ff00"/><rect x="1158" y="101" width="3" height="16" fill="#00ff00"/><rect x="1163" y="115" width="1" height="9" fill="#00ff00"/><rect x="1162" y="119" width="3" height="3" fill="#00ff00"/><rect x="1167" y="98" width="1" height="22" fill="#ff0000"/><rect x="1166" y="103" width="3" height="13" fill="#ff0000"/><rect x="1171" y="93" width="1" height="25" fill="#00ff00"/><rect x="1170" y="103" width="3" height="14" fill="#00ff00"/><rect x="1175" y="100" width="1" height="29" fill="#00ff00"/><rect x="1174" y="108" width="3" height="12" fill="#00ff00"/><rect x="1179" y="112" width="1" height="44" fill="#00ff00"/><rect x="1178" y="117" width="3" height="7" fill="#00ff00"/><rect x="1183" y="104" width="1" height="20" fill="#ff0000"/><rect x="1182" y="110" width="3" height="14" fill="#ff0000"/><rect x="1187" y="105" width="1" height="10" fill="#00ff00"/><rect x="1186" y="109" width="3" height="5" fill="#00ff00"/><rect x="1191" y="104" width="1" height="54" fill="#00ff00"/><rect x="1190" y="112" width="3" height="45" fill="#00ff00"/><rect x="1195" y="140" width="1" height="32" fill="#00ff00"/><rect x="1194" y="154" width="3" height="13" fill="#00ff00"/><rect x="1199" y="161" width="1" height="22" fill="#00ff00"/><rect x="1198" y="167" width="3" height="11" fill="#00ff00"/><rect x="1203" y="172" width="1" height="26" fill="#00ff00"/><rect x="1202" y="177" width="3" height="6" fill="#00ff00"/><rect x="1207" y="177" width="1" height="26" fill="#00ff00"/><rect x="1206" y="181" width="3" height="20" fill="#00ff00"/><rect x="1211" y="194" width="1" height="8" fill="#ff0000"/><rect x="1210" y="197" width="3" height="4" fill="#ff0000"/><rect x="1215" y="176" width="1" height="26" fill="#ff0000"/><rect x="1214" y="183" width="3" height="12" fill="#ff0000"/><rect x="1219" y="152" width="1" height="35" fill="#ff0000"/><rect x="1218" y="162" width="3" height="22" fill="#ff0000"/><rect x="1223" y="147" width="1" height="28" fill="#ff0000"/><rect x="1222" y="160" width="3" height="3" fill="#ff0000"/><rect x="1227" y="142" width="1" height="24" fill="#ff0000"/><rect x="1226" y="149" width="3" height="12" fill="#ff0000"/><rect x="1231" y="148" width="1" height="24" fill="#00ff00"/><rect x="1230" y="149" width="3" height="17" fill="#00ff00"/><rect x="1235" y="161" width="1" height="6" fill="#ff0000"/><rect x="1234" y="162" width="3" height="4" fill="#ff0000"/><rect x="1239" y="131" width="1" height="34" fill="#ff0000"/><rect x="1238" y="136" width="3" height="28" fill="#ff0000"/><rect x="1243" y="130" width="1" height="15" fill="#00ff00"/><rect x="1242" y="136" width="3" height="6" fill="#00ff00"/><rect x="1247" y="134" width="1" height="27" fill="#00ff00"/><rect x="1246" y="139" width="3" height="5" fill="#00ff00"/><rect x="1251" y="137" width="1" height="21" fill="#00ff00"/><rect x="1250" y="143" width="3" height="7" fill="#00ff00"/><rect x="1255" y="121" width="1" height="30" fill="#ff0000"/><rect x="1254" y="123" width="3" height="27" fill="#ff0000"/><rect x="1259" y="120" width="1" height="7" fill="#ff0000"/><rect x="1258" y="121" width="3" height="5" fill="#ff0000"/><rect x="1263" y="120" width="1" height="18" fill="#00ff00"/><rect x="1262" y="124" width="3" height="6" fill="#00ff00"/><rect x="1267" y="125" width="1" height="9" fill="#00ff00"/><rect x="1266" y="129" width="3" height="4" fill="#00ff00"/></g><polyline clip-path="url(#cm)" points="3.5,430.9 7.5,430.9 11.5,430.9 15.5,430.9 19.5,430.9 23.5,430.4 27.5,429.7 31.5,428.3 35.5,426.6 39.5,425.8 43.5,424.9 47.5,424.1 51.5,423.2 55.5,422.3 59.5,421.3 63.5,419.8 67.5,418.3 71.5,416.1 75.5,413.6 79.5,411.1 83.5,407.9 87.5,404.6 91.5,402.9 95.5,401.8 99.5,400.7 103.5,399.8 107.5,399.2 111.5,398.7 115.5,398.1 119.5,398.5 123.5,398.7 127.5,398.6 131.5,398.4 135.5,397.7 139.5,397.2 143.5,397.4 147.5,398.1 151.5,399.6 155.5,401.3 159.5,403.0 163.5,404.6 167.5,406.1 171.5,407.2 175.5,407.8 179.5,408.6 183.5,408.9 187.5,409.3 191.5,409.8 195.5,410.6 199.5,412.1 203.5,413.4 207.5,414.5 211.5,414.2 215.5,414.2 219.5,413.3 223.5,411.8 227.5,410.6 231.5,409.3 235.5,407.5 239.5,406.0 243.5,404.6 247.5,404.1 251.5,403.9 255.5,403.8 259.5,403.7 263.5,403.4 267.5,403.1 271.5,401.5 275.5,399.5 279.5,397.1 283.5,394.4 287.5,391.6 291.5,389.3 295.5,387.6 299.5,385.7 303.5,384.2 307.5,383.5 311.5,383.1 315.5,383.0 319.5,382.2 323.5,381.3 327.5,380.6 331.5,380.2 335.5,379.3 339.5,379.1 343.5,379.7 347.5,380.0 351.5,380.7 355.5,381.5 359.5,382.1 363.5,382.9 367.5,383.8 371.5,384.3 375.5,385.2 379.5,386.4 383.5,387.4 387.5,388.2 391.5,389.2 395.5,390.3 399.5,392.2 403.5,394.5 407.5,397.2 411.5,400.0 415.5,402.5 419.5,405.3 423.5,408.6 427.5,411.4 431.5,414.3 435.5,417.4 439.5,420.8 443.5,424.4 447.5,428.3 451.5,432.0 455.5,436.6 459.5,440.7 463.5,443.7 467.5,446.6 471.5,449.4 475.5,452.3 479.5,455.0 483.5,455.7 487.5,456.2 491.5,456.2 495.5,454.7 499.5,452.5 503.5,450.7 507.5,448.8 511.5,446.0 515.5,443.1 519.5,438.5 523.5,434.7 527.5,431.2 531.5,429.9 535.5,428.6 539.5,427.0 543.5,424.4 547.5,423.7 551.5,424.4 555.5,426.3 559.5,428.4 563.5,430.7 567.5,431.5 571.5,431.8 575.5,431.3 579.5,428.5 583.5,425.9 587.5,422.6 591.5,420.6 595.5,418.7 599.5,417.9 603.5,419.5 607.5,421.9 611.5,424.6 615.5,428.7 619.5,432.4 623.5,435.8 627.5,439.1 631.5,443.6 635.5,448.5 639.5,455.0 643.5,459.5 647.5,464.2 651.5,467.2 655.5,469.5 659.5,472.1 663.5,475.4 667.5,476.9 671.5,476.9 675.5,475.5 679.5,474.0 683.5,472.2 687.5,471.3 691.5,470.8 695.5,470.5 699.5,471.7 703.5,472.5 707.5,474.3 711.5,475.6 715.5,477.7 719.5,479.3 723.5,479.9 727.5,479.1 731.5,478.7 735.5,478.5 739.5,478.8 743.5,479.2 747.5,480.9 751.5,482.5 755.5,484.0 759.5,484.0 763.5,484.5 767.5,483.6 771.5,482.1 775.5,482.0 779.5,481.6 783.5,481.3 787.5,479.8 791.5,478.1 795.5,474.9 799.5,471.0 803.5,467.3 807.5,463.6 811.5,459.5 815.5,454.6 819.5,449.7 823.5,446.0 827.5,442.1 831.5,437.4 835.5,431.1 839.5,424.2 843.5,417.1 847.5,412.1 851.5,407.3 855.5,401.6 859.5,396.7 863.5,391.9 867.5,386.7 871.5,382.0 875.5,377.4 879.5,372.9 883.5,368.1 887.5,364.5 891.5,361.1 895.5,357.1 899.5,353.0 903.5,348.7 907.5,345.4 911.5,341.7 915.5,339.6 919.5,337.9 923.5,336.2 927.5,333.8 931.5,332.2 935.5,331.2 939.5,331.4 943.5,331.1 947.5,331.1 951.5,330.1 955.5,329.4 959.5,328.7 963.5,328.1 967.5,325.7 971.5,323.2 975.5,321.0 979.5,318.0 983.5,313.4 987.5,308.3 991.5,302.7 995.5,297.0 999.5,290.9 1003.5,285.8 1007.5,279.6 1011.5,272.4 1015.5,264.8 1019.5,257.8 1023.5,251.3 1027.5,244.8 1031.5,236.8 1035.5,229.0 1039.5,222.4 1043.5,215.6 1047.5,210.0 1051.5,204.1 1055.5,198.2 1059.5,191.8 1063.5,185.3 1067.5,178.5 1071.5,172.2 1075.5,165.7 1079.5,159.5 1083.5,154.1 1087.5,149.9 1091.5,145.5 1095.5,140.8 1099.5,136.8 1103.5,134.0 1107.5,131.5 1111.5,128.1 1115.5,125.0 1119.5,122.5 1123.5,119.8 1127.5,118.9 1131.5,118.4 1135.5,118.5 1139.5,117.7 1143.5,116.9 1147.5,116.6 1151.5,117.8 1155.5,117.5 1159.5,116.7 1163.5,116.2 1167.5,114.7 1171.5,113.8 1175.5,113.3 1179.5,113.3 1183.5,113.0 1187.5,112.9 1191.5,114.6 1195.5,117.4 1199.5,120.3 1203.5,122.7 1207.5,124.7 1211.5,126.7 1215.5,128.7 1219.5,130.0 1223.5,131.1 1227.5,131.9 1231.5,134.4 1235.5,136.5 1239.5,138.6 1243.5,140.7 1247.5,141.6 1251.5,142.6 1255.5,142.6 1259.5,142.9 1263.5,143.0 1267.5,142.9" fill="none" stroke="#0000cd" stroke-width="1" shape-rendering="crispEdges" /><polyline clip-path="url(#cm)" points="3.5,445.8 7.5,444.2 11.5,441.5 15.5,438.6 19.5,436.6 23.5,431.2 27.5,425.9 31.5,420.8 35.5,415.6 39.5,411.1 43.5,407.4 47.5,403.7 51.5,400.4 55.5,397.4 59.5,395.8 63.5,394.4 67.5,392.4 71.5,389.7 75.5,386.4 79.5,383.9 83.5,383.1 87.5,383.1 91.5,385.5 95.5,387.3 99.5,389.7 103.5,392.3 107.5,394.4 111.5,395.5 115.5,397.3 119.5,399.5 123.5,402.6 127.5,404.6 131.5,407.3 135.5,409.7 139.5,412.1 143.5,414.6 147.5,414.4 151.5,415.6 155.5,416.2 159.5,416.4 163.5,416.8 167.5,417.9 171.5,417.9 175.5,417.4 179.5,417.1 183.5,416.5 187.5,415.8 191.5,415.6 195.5,415.1 199.5,415.4 203.5,416.0 207.5,414.9 211.5,413.1 215.5,411.2 219.5,408.2 223.5,404.5 227.5,401.6 231.5,398.6 235.5,394.8 239.5,393.4 243.5,392.5 247.5,392.4 251.5,393.1 255.5,392.1 259.5,391.1 263.5,390.9 267.5,390.6 271.5,388.5 275.5,386.7 279.5,384.9 283.5,382.1 287.5,380.0 291.5,378.9 295.5,378.0 299.5,376.6 303.5,373.9 307.5,372.0 311.5,371.1 315.5,370.9 319.5,370.0 323.5,369.3 327.5,370.1 331.5,371.7 335.5,373.0 339.5,375.5 343.5,378.9 347.5,381.7 351.5,383.9 355.5,385.7 359.5,388.7 363.5,391.3 367.5,393.9 371.5,395.7 375.5,398.5 379.5,401.9 383.5,405.5 387.5,407.8 391.5,409.7 395.5,410.8 399.5,411.8 403.5,413.2 407.5,415.4 411.5,418.6 415.5,421.8 419.5,424.4 423.5,427.1 427.5,430.2 431.5,433.4 435.5,437.4 439.5,441.6 443.5,447.0 447.5,453.9 451.5,461.1 455.5,468.1 459.5,474.4 463.5,478.4 467.5,481.6 471.5,484.4 475.5,486.6 479.5,488.1 483.5,486.2 487.5,483.8 491.5,478.9 495.5,471.2 499.5,462.0 503.5,453.6 507.5,443.8 511.5,429.8 515.5,415.9 519.5,400.6 523.5,387.8 527.5,376.4 531.5,370.6 535.5,365.3 539.5,362.9 543.5,358.9 547.5,360.4 551.5,368.4 555.5,381.4 559.5,393.6 563.5,408.1 567.5,422.9 571.5,436.9 575.5,452.7 579.5,461.0 583.5,466.9 587.5,465.9 591.5,467.2 595.5,468.9 599.5,474.3 603.5,477.3 607.5,478.3 611.5,475.3 615.5,471.9 619.5,465.6 623.5,462.9 627.5,459.3 631.5,456.2 635.5,458.8 639.5,462.9 643.5,466.9 647.5,469.8 651.5,474.5 655.5,475.8 659.5,475.6 663.5,473.5 667.5,472.4 671.5,471.8 675.5,473.7 679.5,475.4 683.5,479.1 687.5,482.2 691.5,484.7 695.5,486.1 699.5,487.1 703.5,484.7 707.5,481.1 711.5,480.3 715.5,480.9 719.5,482.7 723.5,483.7 727.5,483.0 731.5,482.2 735.5,481.6 739.5,479.8 743.5,479.8 747.5,480.9 751.5,481.9 755.5,485.2 759.5,487.7 763.5,488.7 767.5,486.9 771.5,484.0 775.5,481.6 779.5,479.4 783.5,478.2 787.5,474.8 791.5,470.9 795.5,465.4 799.5,458.0 803.5,449.9 807.5,441.7 811.5,432.2 815.5,423.0 819.5,412.6 823.5,404.3 827.5,395.2 831.5,384.6 835.5,372.5 839.5,360.2 843.5,349.3 847.5,341.6 851.5,337.3 855.5,332.9 859.5,328.6 863.5,326.1 867.5,324.8 871.5,326.4 875.5,330.1 879.5,331.0 883.5,330.1 887.5,330.6 891.5,334.1 895.5,337.9 899.5,341.9 903.5,342.4 907.5,342.1 911.5,342.4 915.5,343.0 919.5,342.4 923.5,341.7 927.5,338.4 931.5,335.4 935.5,333.6 939.5,334.1 943.5,332.9 947.5,330.8 951.5,326.8 955.5,321.9 959.5,317.4 963.5,312.2 967.5,307.4 971.5,302.1 975.5,296.7 979.5,289.8 983.5,282.4 987.5,273.6 991.5,265.4 995.5,256.4 999.5,244.9 1003.5,233.2 1007.5,222.4 1011.5,212.1 1015.5,200.9 1019.5,191.3 1023.5,182.9 1027.5,174.1 1031.5,161.9 1035.5,152.3 1039.5,147.2 1043.5,143.0 1047.5,139.7 1051.5,136.3 1055.5,135.0 1059.5,132.6 1063.5,130.9 1067.5,129.6 1071.5,128.4 1075.5,124.6 1079.5,120.5 1083.5,117.9 1087.5,121.2 1091.5,123.1 1095.5,121.9 1099.5,120.9 1103.5,119.5 1107.5,118.0 1111.5,115.1 1115.5,113.3 1119.5,110.1 1123.5,107.3 1127.5,108.1 1131.5,110.8 1135.5,113.1 1139.5,113.3 1143.5,112.2 1147.5,112.2 1151.5,112.7 1155.5,111.1 1159.5,110.3 1163.5,110.1 1167.5,110.9 1171.5,112.2 1175.5,115.4 1179.5,118.8 1183.5,118.3 1187.5,117.9 1191.5,120.1 1195.5,124.0 1199.5,127.7 1203.5,131.0 1207.5,135.9 1211.5,142.8 1215.5,147.6 1219.5,150.5 1223.5,154.6 1227.5,156.9 1231.5,160.2 1235.5,163.0 1239.5,164.9 1243.5,166.9 1247.5,165.9 1251.5,164.7 1255.5,160.9 1259.5,156.5 1263.5,151.4 1267.5,146.8" fill="none" stroke="#ff0000" stroke-width="1" shape-rendering="crispEdges" /><polyline clip-path="url(#cm)" points="3.5,436.9 7.5,433.0 11.5,428.4 15.5,422.9 19.5,419.0 23.5,414.6 27.5,407.8 31.5,399.4 35.5,389.0 39.5,380.8 43.5,376.4 47.5,377.6 51.5,382.0 55.5,388.2 59.5,393.2 63.5,396.4 67.5,396.2 71.5,394.2 75.5,388.4 79.5,381.4 83.5,376.2 87.5,373.4 91.5,377.2 95.5,383.2 99.5,392.6 103.5,403.4 107.5,413.6 111.5,416.2 115.5,421.2 119.5,423.8 123.5,425.2 127.5,422.8 131.5,421.4 135.5,416.2 139.5,411.4 143.5,406.8 147.5,404.8 151.5,406.6 155.5,410.8 159.5,415.6 163.5,419.8 167.5,425.8 171.5,427.6 175.5,427.2 179.5,427.0 183.5,422.0 187.5,415.6 191.5,409.6 195.5,404.8 199.5,402.0 203.5,403.4 207.5,404.2 211.5,404.0 215.5,404.8 219.5,399.8 223.5,393.6 227.5,390.2 231.5,386.6 235.5,381.0 239.5,380.4 243.5,382.0 247.5,384.0 251.5,389.2 255.5,394.4 259.5,397.2 263.5,399.6 267.5,399.0 271.5,392.0 275.5,384.8 279.5,376.2 283.5,365.6 287.5,356.8 291.5,354.2 295.5,356.0 299.5,358.6 303.5,361.2 307.5,366.8 311.5,372.6 315.5,377.2 319.5,381.2 323.5,386.0 327.5,386.6 331.5,386.4 335.5,382.2 339.5,381.0 343.5,383.6 347.5,386.8 351.5,390.0 355.5,394.2 359.5,398.2 363.5,401.6 367.5,406.6 371.5,410.4 375.5,417.0 379.5,423.0 383.5,426.4 387.5,425.4 391.5,421.4 395.5,415.4 399.5,411.2 403.5,408.4 407.5,411.2 411.5,419.2 415.5,429.0 419.5,437.0 423.5,445.6 427.5,452.0 431.5,458.2 435.5,466.8 439.5,474.4 443.5,481.0 447.5,487.6 451.5,493.0 455.5,497.2 459.5,500.4 463.5,499.0 467.5,496.8 471.5,494.2 475.5,488.6 479.5,483.8 483.5,474.0 487.5,464.4 491.5,451.4 495.5,431.4 499.5,408.0 503.5,396.4 507.5,381.0 511.5,359.8 515.5,345.6 519.5,327.2 523.5,312.4 527.5,305.6 531.5,323.0 535.5,342.0 539.5,368.2 543.5,383.4 547.5,406.6 551.5,425.2 555.5,453.0 559.5,482.6 563.5,518.8 567.5,534.6 571.5,537.4 575.5,527.0 579.5,501.0 583.5,470.4 587.5,443.4 591.5,426.8 595.5,413.4 599.5,420.6 603.5,435.6 607.5,460.0 611.5,475.6 615.5,491.2 619.5,494.6 623.5,494.4 627.5,484.2 631.5,473.6 635.5,464.2 639.5,462.8 643.5,454.6 647.5,456.2 651.5,464.6 655.5,468.2 659.5,471.0 663.5,478.4 667.5,482.8 671.5,483.6 675.5,488.8 679.5,494.0 683.5,499.8 687.5,501.2 691.5,500.4 695.5,497.4 699.5,487.2 703.5,472.0 707.5,461.4 711.5,455.8 715.5,456.4 719.5,466.2 723.5,480.0 727.5,489.0 731.5,494.2 735.5,496.2 739.5,491.6 743.5,490.2 747.5,494.6 751.5,496.6 755.5,497.2 759.5,494.2 763.5,486.4 767.5,472.4 771.5,462.2 775.5,456.2 779.5,456.6 783.5,459.6 787.5,460.4 791.5,459.4 795.5,446.0 799.5,430.4 803.5,415.4 807.5,404.0 811.5,389.0 815.5,375.6 819.5,359.4 823.5,344.6 827.5,332.0 831.5,322.8 835.5,315.2 839.5,312.8 843.5,306.4 847.5,309.4 851.5,313.6 855.5,319.6 859.5,327.0 863.5,339.0 867.5,341.8 871.5,345.2 875.5,351.6 879.5,351.2 883.5,343.4 887.5,339.2 891.5,336.8 895.5,334.4 899.5,337.0 903.5,343.6 907.5,345.8 911.5,342.8 915.5,341.4 919.5,340.2 923.5,340.0 927.5,334.8 931.5,332.0 935.5,325.0 939.5,320.4 943.5,314.4 947.5,315.4 951.5,310.2 955.5,304.2 959.5,296.6 963.5,288.0 967.5,277.4 971.5,272.4 975.5,269.6 979.5,262.8 983.5,251.2 987.5,237.2 991.5,222.0 995.5,207.6 999.5,188.6 1003.5,177.8 1007.5,166.8 1011.5,155.0 1015.5,141.0 1019.5,138.0 1023.5,136.6 1027.5,137.2 1031.5,129.2 1035.5,126.8 1039.5,127.8 1043.5,125.4 1047.5,125.8 1051.5,135.8 1055.5,140.2 1059.5,137.0 1063.5,133.0 1067.5,126.8 1071.5,119.0 1075.5,109.0 1079.5,102.6 1083.5,100.8 1087.5,105.6 1091.5,111.8 1095.5,120.2 1099.5,126.6 1103.5,130.2 1107.5,126.8 1111.5,118.0 1115.5,112.8 1119.5,102.8 1123.5,92.6 1127.5,91.4 1131.5,96.8 1135.5,102.0 1139.5,109.6 1143.5,119.4 1147.5,123.2 1151.5,125.6 1155.5,121.0 1159.5,121.8 1163.5,121.0 1167.5,114.4 1171.5,111.4 1175.5,115.0 1179.5,116.4 1183.5,114.2 1187.5,116.2 1191.5,124.2 1195.5,133.6 1199.5,144.4 1203.5,158.8 1207.5,176.2 1211.5,184.4 1215.5,187.8 1219.5,184.8 1223.5,180.4 1227.5,170.2 1231.5,163.8 1235.5,159.6 1239.5,154.4 1243.5,150.6 1247.5,149.4 1251.5,146.2 1255.5,138.4 1259.5,135.4 1263.5,133.0 1267.5,130.8" fill="none" stroke="#ffa500" stroke-width="1" shape-rendering="crispEdges" /><rect x="3" y="132" width="1592" height="1" fill="#c0c0c0" shape-rendering="crispEdges"/><g shape-rendering="crispEdges" fill="#ff0000"><rect x="8" y="53" width="1581" height="2"/><path d="M2 51h6v6h-6z M4 53v2h2v-2z" fill-rule="evenodd"/><path d="M1589 51h6v6h-6z M1591 53v2h2v-2z" fill-rule="evenodd"/></g><g shape-rendering="crispEdges" fill="#ff0000"><rect x="8" y="91" width="1581" height="2"/><path d="M2 89h6v6h-6z M4 91v2h2v-2z" fill-rule="evenodd"/><path d="M1589 89h6v6h-6z M1591 91v2h2v-2z" fill-rule="evenodd"/></g><g shape-rendering="crispEdges" fill="#00ff00"><rect x="8" y="128" width="1581" height="2"/><path d="M2 126h6v6h-6z M4 128v2h2v-2z" fill-rule="evenodd"/><path d="M1589 126h6v6h-6z M1591 128v2h2v-2z" fill-rule="evenodd"/></g><g shape-rendering="crispEdges" fill="#0000ff"><rect x="8" y="166" width="1581" height="2"/><path d="M2 164h6v6h-6z M4 166v2h2v-2z" fill-rule="evenodd"/><path d="M1589 164h6v6h-6z M1591 166v2h2v-2z" fill-rule="evenodd"/></g><g shape-rendering="crispEdges" fill="#0000ff"><rect x="8" y="204" width="1581" height="2"/><path d="M2 202h6v6h-6z M4 204v2h2v-2z" fill-rule="evenodd"/><path d="M1589 202h6v6h-6z M1591 204v2h2v-2z" fill-rule="evenodd"/></g><rect x="2.5" y="24.5" width="1593" height="556" fill="none" stroke="#000" stroke-width="1" shape-rendering="crispEdges"/><rect x="2.5" y="582.5" width="1593" height="102" fill="none" stroke="#000" stroke-width="1" shape-rendering="crispEdges"/><rect x="2.5" y="686.5" width="1593" height="101" fill="none" stroke="#000" stroke-width="1" shape-rendering="crispEdges"/><g fill="#c0c0c0" shape-rendering="crispEdges"><rect x="1271" y="25" width="9" height="1"/><rect x="1272" y="26" width="7" height="1"/><rect x="1273" y="27" width="5" height="1"/><rect x="1274" y="28" width="3" height="1"/><rect x="1275" y="29" width="1" height="1"/></g><g shape-rendering="crispEdges" fill="#000"><rect x="1596" y="49" width="2" height="1"/><rect x="1596" y="82" width="2" height="1"/><rect x="1596" y="115" width="2" height="1"/><rect x="1596" y="148" width="2" height="1"/><rect x="1596" y="181" width="2" height="1"/><rect x="1596" y="214" width="2" height="1"/><rect x="1596" y="247" width="2" height="1"/><rect x="1596" y="280" width="2" height="1"/><rect x="1596" y="313" width="2" height="1"/><rect x="1596" y="346" width="2" height="1"/><rect x="1596" y="379" width="2" height="1"/><rect x="1596" y="412" width="2" height="1"/><rect x="1596" y="445" width="2" height="1"/><rect x="1596" y="478" width="2" height="1"/><rect x="1596" y="511" width="2" height="1"/><rect x="1596" y="544" width="2" height="1"/><rect x="1596" y="577" width="2" height="1"/><rect x="1596" y="749" width="2" height="1"/><rect x="1596" y="687" width="1" height="1"/><rect x="1596" y="786" width="1" height="1"/><rect x="3" y="788" width="1" height="3"/><rect x="67" y="788" width="1" height="3"/><rect x="131" y="788" width="1" height="3"/><rect x="195" y="788" width="1" height="3"/><rect x="259" y="788" width="1" height="3"/><rect x="323" y="788" width="1" height="3"/><rect x="387" y="788" width="1" height="3"/><rect x="451" y="788" width="1" height="3"/><rect x="515" y="788" width="1" height="3"/><rect x="579" y="788" width="1" height="3"/><rect x="643" y="788" width="1" height="3"/><rect x="707" y="788" width="1" height="3"/><rect x="771" y="788" width="1" height="3"/><rect x="835" y="788" width="1" height="3"/><rect x="899" y="788" width="1" height="3"/><rect x="963" y="788" width="1" height="3"/><rect x="1027" y="788" width="1" height="3"/><rect x="1091" y="788" width="1" height="3"/><rect x="1155" y="788" width="1" height="3"/><rect x="1219" y="788" width="1" height="3"/></g><g shape-rendering="crispEdges" stroke="#c0c0c0" stroke-dasharray="3,3"><line x1="4" y1="613.5" x2="1595" y2="613.5"/><line x1="4" y1="653.5" x2="1595" y2="653.5"/></g><polyline clip-path="url(#cr)" points="3.5,631.1 7.5,627.6 11.5,627.2 15.5,631.1 19.5,629.1 23.5,622.4 27.5,615.9 31.5,613.5 35.5,612.7 39.5,617.0 43.5,618.9 47.5,623.6 51.5,627.5 55.5,630.7 59.5,631.2 63.5,628.3 67.5,624.3 71.5,623.4 75.5,618.3 79.5,616.6 83.5,618.7 87.5,620.8 91.5,637.6 95.5,636.6 99.5,641.5 103.5,645.2 107.5,645.2 111.5,641.1 115.5,645.0 119.5,645.0 123.5,646.6 127.5,635.7 131.5,634.7 135.5,630.3 139.5,631.4 143.5,634.0 147.5,630.9 151.5,639.3 155.5,640.6 159.5,642.7 163.5,643.6 167.5,644.9 171.5,642.1 175.5,636.9 179.5,640.0 183.5,628.2 187.5,626.5 191.5,625.6 195.5,624.7 199.5,634.0 203.5,633.4 207.5,629.8 211.5,626.4 215.5,628.2 219.5,622.3 223.5,619.5 227.5,624.1 231.5,620.8 235.5,618.2 239.5,625.7 243.5,628.0 247.5,632.9 251.5,636.8 255.5,633.2 259.5,633.2 263.5,634.3 267.5,630.9 271.5,620.3 275.5,617.6 279.5,615.4 283.5,613.0 287.5,615.1 291.5,619.7 295.5,627.9 299.5,626.6 303.5,623.4 307.5,632.7 311.5,636.3 315.5,639.5 319.5,636.6 323.5,634.6 327.5,633.1 331.5,635.1 335.5,629.3 339.5,633.8 343.5,640.4 347.5,640.4 351.5,642.0 355.5,638.0 359.5,641.6 363.5,646.2 367.5,649.0 371.5,647.7 375.5,650.2 379.5,651.9 383.5,651.1 387.5,641.7 391.5,632.8 395.5,631.4 399.5,637.9 403.5,640.4 407.5,645.6 411.5,648.5 415.5,650.3 419.5,651.8 423.5,654.3 427.5,655.2 431.5,657.3 435.5,661.3 439.5,661.3 443.5,662.1 447.5,662.7 451.5,663.2 455.5,665.6 459.5,661.4 463.5,648.1 467.5,647.5 471.5,647.5 475.5,645.4 479.5,644.7 483.5,623.1 487.5,623.1 491.5,617.7 495.5,609.2 499.5,606.4 503.5,613.4 507.5,610.1 511.5,604.1 515.5,603.8 519.5,600.2 523.5,611.8 527.5,618.1 531.5,634.6 535.5,635.4 539.5,634.8 543.5,630.6 547.5,641.0 551.5,647.5 555.5,652.5 559.5,653.1 563.5,654.1 567.5,645.8 571.5,643.4 575.5,640.7 579.5,629.8 583.5,628.2 587.5,625.4 591.5,631.4 595.5,631.6 599.5,636.2 603.5,639.8 607.5,642.7 611.5,641.8 615.5,642.0 619.5,636.5 623.5,637.8 627.5,633.3 631.5,632.1 635.5,633.4 639.5,635.2 643.5,630.5 647.5,634.9 651.5,639.5 655.5,636.1 659.5,637.2 663.5,636.8 667.5,638.3 671.5,640.1 675.5,641.0 679.5,642.2 683.5,642.4 687.5,638.3 691.5,637.7 695.5,635.8 699.5,627.8 703.5,622.6 707.5,625.4 711.5,631.8 715.5,637.7 719.5,641.1 723.5,639.9 727.5,635.9 731.5,636.8 735.5,639.0 739.5,634.2 743.5,637.2 747.5,640.6 751.5,638.2 755.5,638.7 759.5,628.9 763.5,626.2 767.5,622.5 771.5,625.9 775.5,632.4 779.5,631.6 783.5,631.9 787.5,625.0 791.5,625.6 795.5,617.8 799.5,615.5 803.5,616.9 807.5,615.1 811.5,612.6 815.5,608.3 819.5,605.2 823.5,609.1 827.5,609.5 831.5,609.9 835.5,606.9 839.5,606.6 843.5,605.5 847.5,622.6 851.5,624.6 855.5,621.9 859.5,623.4 863.5,627.6 867.5,628.2 871.5,631.2 875.5,631.5 879.5,624.1 883.5,619.4 887.5,625.7 891.5,631.0 895.5,631.2 899.5,630.2 903.5,629.4 907.5,628.8 911.5,626.9 915.5,630.1 919.5,629.2 923.5,629.9 927.5,622.0 931.5,624.0 935.5,620.8 939.5,624.6 943.5,623.1 947.5,626.5 951.5,619.4 955.5,615.9 959.5,616.4 963.5,614.2 967.5,613.8 971.5,614.8 975.5,613.6 979.5,609.5 983.5,604.1 987.5,602.3 991.5,601.9 995.5,601.7 999.5,597.5 1003.5,600.9 1007.5,599.4 1011.5,598.7 1015.5,597.6 1019.5,604.1 1023.5,611.0 1027.5,610.1 1031.5,603.5 1035.5,609.7 1039.5,619.7 1043.5,619.3 1047.5,622.2 1051.5,621.5 1055.5,619.1 1059.5,617.6 1063.5,616.4 1067.5,616.0 1071.5,613.9 1075.5,609.9 1079.5,614.1 1083.5,620.8 1087.5,630.6 1091.5,629.6 1095.5,626.6 1099.5,626.6 1103.5,627.7 1107.5,626.5 1111.5,618.9 1115.5,621.2 1119.5,616.2 1123.5,617.0 1127.5,630.7 1131.5,631.3 1135.5,632.8 1139.5,629.4 1143.5,633.4 1147.5,636.5 1151.5,634.9 1155.5,626.7 1159.5,631.2 1163.5,632.7 1167.5,627.9 1171.5,631.8 1175.5,632.7 1179.5,633.9 1183.5,630.0 1187.5,631.0 1191.5,642.9 1195.5,645.1 1199.5,647.4 1203.5,648.4 1207.5,651.9 1211.5,650.7 1215.5,645.2 1219.5,638.1 1223.5,637.5 1227.5,634.0 1231.5,638.5 1235.5,637.5 1239.5,629.7 1243.5,631.2 1247.5,631.9 1251.5,633.9 1255.5,626.2 1259.5,625.6 1263.5,628.6 1267.5,629.7" fill="none" stroke="#1e90ff" stroke-width="1" shape-rendering="crispEdges" /><g clip-path="url(#cd)" shape-rendering="crispEdges" fill="#c0c0c0"><rect x="3" y="749" width="1" height="5"/><rect x="7" y="749" width="1" height="3"/><rect x="11" y="749" width="1" height="2"/><rect x="19" y="748" width="1" height="2"/><rect x="23" y="746" width="1" height="4"/><rect x="27" y="742" width="1" height="8"/><rect x="31" y="739" width="1" height="11"/><rect x="35" y="736" width="1" height="14"/><rect x="39" y="735" width="1" height="15"/><rect x="43" y="734" width="1" height="16"/><rect x="47" y="734" width="1" height="16"/><rect x="51" y="736" width="1" height="14"/><rect x="55" y="737" width="1" height="13"/><rect x="59" y="738" width="1" height="12"/><rect x="63" y="739" width="1" height="11"/><rect x="67" y="739" width="1" height="11"/><rect x="71" y="739" width="1" height="11"/><rect x="75" y="738" width="1" height="12"/><rect x="79" y="736" width="1" height="14"/><rect x="83" y="736" width="1" height="14"/><rect x="87" y="736" width="1" height="14"/><rect x="91" y="739" width="1" height="11"/><rect x="95" y="741" width="1" height="9"/><rect x="99" y="744" width="1" height="6"/><rect x="103" y="747" width="1" height="3"/><rect x="107" y="749" width="1" height="2"/><rect x="111" y="749" width="1" height="3"/><rect x="115" y="749" width="1" height="5"/><rect x="119" y="749" width="1" height="6"/><rect x="123" y="749" width="1" height="8"/><rect x="127" y="749" width="1" height="7"/><rect x="131" y="749" width="1" height="7"/><rect x="135" y="749" width="1" height="5"/><rect x="139" y="749" width="1" height="4"/><rect x="143" y="749" width="1" height="4"/><rect x="147" y="749" width="1" height="3"/><rect x="151" y="749" width="1" height="4"/><rect x="155" y="749" width="1" height="5"/><rect x="159" y="749" width="1" height="6"/><rect x="163" y="749" width="1" height="7"/><rect x="167" y="749" width="1" height="8"/><rect x="171" y="749" width="1" height="8"/><rect x="175" y="749" width="1" height="7"/><rect x="179" y="749" width="1" height="8"/><rect x="183" y="749" width="1" height="6"/><rect x="187" y="749" width="1" height="4"/><rect x="191" y="749" width="1" height="2"/><rect x="195" y="748" width="1" height="2"/><rect x="199" y="748" width="1" height="2"/><rect x="207" y="748" width="1" height="2"/><rect x="211" y="747" width="1" height="3"/><rect x="215" y="746" width="1" height="4"/><rect x="219" y="745" width="1" height="5"/><rect x="223" y="743" width="1" height="7"/><rect x="227" y="742" width="1" height="8"/><rect x="231" y="741" width="1" height="9"/><rect x="235" y="740" width="1" height="10"/><rect x="239" y="740" width="1" height="10"/><rect x="243" y="740" width="1" height="10"/><rect x="247" y="742" width="1" height="8"/><rect x="251" y="743" width="1" height="7"/><rect x="255" y="744" width="1" height="6"/><rect x="259" y="745" width="1" height="5"/><rect x="263" y="746" width="1" height="4"/><rect x="267" y="746" width="1" height="4"/><rect x="271" y="744" width="1" height="6"/><rect x="275" y="742" width="1" height="8"/><rect x="279" y="739" width="1" height="11"/><rect x="283" y="737" width="1" height="13"/><rect x="287" y="736" width="1" height="14"/><rect x="291" y="735" width="1" height="15"/><rect x="295" y="736" width="1" height="14"/><rect x="299" y="737" width="1" height="13"/><rect x="303" y="737" width="1" height="13"/><rect x="307" y="739" width="1" height="11"/><rect x="311" y="741" width="1" height="9"/><rect x="315" y="744" width="1" height="6"/><rect x="319" y="745" width="1" height="5"/><rect x="323" y="746" width="1" height="4"/><rect x="327" y="746" width="1" height="4"/><rect x="331" y="747" width="1" height="3"/><rect x="335" y="747" width="1" height="3"/><rect x="339" y="747" width="1" height="3"/><rect x="347" y="749" width="1" height="2"/><rect x="351" y="749" width="1" height="4"/><rect x="355" y="749" width="1" height="4"/><rect x="359" y="749" width="1" height="5"/><rect x="363" y="749" width="1" height="7"/><rect x="367" y="749" width="1" height="9"/><rect x="371" y="749" width="1" height="10"/><rect x="375" y="749" width="1" height="12"/><rect x="379" y="749" width="1" height="14"/><rect x="383" y="749" width="1" height="15"/><rect x="387" y="749" width="1" height="14"/><rect x="391" y="749" width="1" height="12"/><rect x="395" y="749" width="1" height="10"/><rect x="399" y="749" width="1" height="9"/><rect x="403" y="749" width="1" height="9"/><rect x="407" y="749" width="1" height="11"/><rect x="411" y="749" width="1" height="12"/><rect x="415" y="749" width="1" height="14"/><rect x="419" y="749" width="1" height="16"/><rect x="423" y="749" width="1" height="17"/><rect x="427" y="749" width="1" height="19"/><rect x="431" y="749" width="1" height="21"/><rect x="435" y="749" width="1" height="24"/><rect x="439" y="749" width="1" height="25"/><rect x="443" y="749" width="1" height="27"/><rect x="447" y="749" width="1" height="28"/><rect x="451" y="749" width="1" height="29"/><rect x="455" y="749" width="1" height="30"/><rect x="459" y="749" width="1" height="31"/><rect x="463" y="749" width="1" height="29"/><rect x="467" y="749" width="1" height="27"/><rect x="471" y="749" width="1" height="25"/><rect x="475" y="749" width="1" height="24"/><rect x="479" y="749" width="1" height="22"/><rect x="483" y="749" width="1" height="16"/><rect x="487" y="749" width="1" height="12"/><rect x="491" y="749" width="1" height="6"/><rect x="495" y="747" width="1" height="3"/><rect x="499" y="739" width="1" height="11"/><rect x="503" y="735" width="1" height="15"/><rect x="507" y="730" width="1" height="20"/><rect x="511" y="722" width="1" height="28"/><rect x="515" y="716" width="1" height="34"/><rect x="519" y="708" width="1" height="42"/><rect x="523" y="706" width="1" height="44"/><rect x="527" y="706" width="1" height="44"/><rect x="531" y="713" width="1" height="37"/><rect x="535" y="720" width="1" height="30"/><rect x="539" y="725" width="1" height="25"/><rect x="543" y="727" width="1" height="23"/><rect x="547" y="735" width="1" height="15"/><rect x="551" y="746" width="1" height="4"/><rect x="555" y="749" width="1" height="11"/><rect x="559" y="749" width="1" height="21"/><rect x="563" y="749" width="1" height="30"/><rect x="567" y="749" width="1" height="34"/><rect x="571" y="749" width="1" height="35"/><rect x="575" y="749" width="1" height="34"/><rect x="579" y="749" width="1" height="26"/><rect x="583" y="749" width="1" height="19"/><rect x="587" y="749" width="1" height="11"/><rect x="591" y="749" width="1" height="8"/><rect x="595" y="749" width="1" height="6"/><rect x="599" y="749" width="1" height="7"/><rect x="603" y="749" width="1" height="10"/><rect x="607" y="749" width="1" height="14"/><rect x="611" y="749" width="1" height="17"/><rect x="615" y="749" width="1" height="19"/><rect x="619" y="749" width="1" height="18"/><rect x="623" y="749" width="1" height="18"/><rect x="627" y="749" width="1" height="15"/><rect x="631" y="749" width="1" height="12"/><rect x="635" y="749" width="1" height="10"/><rect x="639" y="749" width="1" height="10"/><rect x="643" y="749" width="1" height="7"/><rect x="647" y="749" width="1" height="7"/><rect x="651" y="749" width="1" height="9"/><rect x="655" y="749" width="1" height="9"/><rect x="659" y="749" width="1" height="9"/><rect x="663" y="749" width="1" height="10"/><rect x="667" y="749" width="1" height="10"/><rect x="671" y="749" width="1" height="12"/><rect x="675" y="749" width="1" height="13"/><rect x="679" y="749" width="1" height="14"/><rect x="683" y="749" width="1" height="15"/><rect x="687" y="749" width="1" height="15"/><rect x="691" y="749" width="1" height="14"/><rect x="695" y="749" width="1" height="13"/><rect x="699" y="749" width="1" height="9"/><rect x="703" y="749" width="1" height="4"/><rect x="707" y="748" width="1" height="2"/><rect x="711" y="748" width="1" height="2"/><rect x="715" y="749" width="1" height="2"/><rect x="719" y="749" width="1" height="5"/><rect x="723" y="749" width="1" height="6"/><rect x="727" y="749" width="1" height="6"/><rect x="731" y="749" width="1" height="7"/><rect x="735" y="749" width="1" height="8"/><rect x="739" y="749" width="1" height="7"/><rect x="743" y="749" width="1" height="7"/><rect x="747" y="749" width="1" height="9"/><rect x="751" y="749" width="1" height="9"/><rect x="755" y="749" width="1" height="9"/><rect x="759" y="749" width="1" height="7"/><rect x="763" y="749" width="1" height="3"/><rect x="767" y="747" width="1" height="3"/><rect x="771" y="745" width="1" height="5"/><rect x="775" y="745" width="1" height="5"/><rect x="779" y="745" width="1" height="5"/><rect x="783" y="745" width="1" height="5"/><rect x="787" y="743" width="1" height="7"/><rect x="791" y="741" width="1" height="9"/><rect x="795" y="737" width="1" height="13"/><rect x="799" y="732" width="1" height="18"/><rect x="803" y="729" width="1" height="21"/><rect x="807" y="726" width="1" height="24"/><rect x="811" y="722" width="1" height="28"/><rect x="815" y="717" width="1" height="33"/><rect x="819" y="710" width="1" height="40"/><rect x="823" y="707" width="1" height="43"/><rect x="827" y="705" width="1" height="45"/><rect x="831" y="704" width="1" height="46"/><rect x="835" y="701" width="1" height="49"/><rect x="839" y="700" width="1" height="50"/><rect x="843" y="698" width="1" height="52"/><rect x="847" y="702" width="1" height="48"/><rect x="851" y="706" width="1" height="44"/><rect x="855" y="709" width="1" height="41"/><rect x="859" y="711" width="1" height="39"/><rect x="863" y="715" width="1" height="35"/><rect x="867" y="719" width="1" height="31"/><rect x="871" y="723" width="1" height="27"/><rect x="875" y="727" width="1" height="23"/><rect x="879" y="727" width="1" height="23"/><rect x="883" y="726" width="1" height="24"/><rect x="887" y="727" width="1" height="23"/><rect x="891" y="729" width="1" height="21"/><rect x="895" y="732" width="1" height="18"/><rect x="899" y="733" width="1" height="17"/><rect x="903" y="735" width="1" height="15"/><rect x="907" y="736" width="1" height="14"/><rect x="911" y="736" width="1" height="14"/><rect x="915" y="737" width="1" height="13"/><rect x="919" y="738" width="1" height="12"/><rect x="923" y="739" width="1" height="11"/><rect x="927" y="737" width="1" height="13"/><rect x="931" y="737" width="1" height="13"/><rect x="935" y="735" width="1" height="15"/><rect x="939" y="735" width="1" height="15"/><rect x="943" y="735" width="1" height="15"/><rect x="947" y="735" width="1" height="15"/><rect x="951" y="734" width="1" height="16"/><rect x="955" y="731" width="1" height="19"/><rect x="959" y="729" width="1" height="21"/><rect x="963" y="727" width="1" height="23"/><rect x="967" y="726" width="1" height="24"/><rect x="971" y="725" width="1" height="25"/><rect x="975" y="724" width="1" height="26"/><rect x="979" y="722" width="1" height="28"/><rect x="983" y="718" width="1" height="32"/><rect x="987" y="714" width="1" height="36"/><rect x="991" y="710" width="1" height="40"/><rect x="995" y="708" width="1" height="42"/><rect x="999" y="703" width="1" height="47"/><rect x="1003" y="700" width="1" height="50"/><rect x="1007" y="697" width="1" height="53"/><rect x="1011" y="695" width="1" height="55"/><rect x="1015" y="693" width="1" height="57"/><rect x="1019" y="692" width="1" height="58"/><rect x="1023" y="694" width="1" height="56"/><rect x="1027" y="696" width="1" height="54"/><rect x="1031" y="694" width="1" height="56"/><rect x="1035" y="694" width="1" height="56"/><rect x="1039" y="697" width="1" height="53"/><rect x="1043" y="700" width="1" height="50"/><rect x="1047" y="704" width="1" height="46"/><rect x="1051" y="707" width="1" height="43"/><rect x="1055" y="709" width="1" height="41"/><rect x="1059" y="710" width="1" height="40"/><rect x="1063" y="711" width="1" height="39"/><rect x="1067" y="712" width="1" height="38"/><rect x="1071" y="712" width="1" height="38"/><rect x="1075" y="710" width="1" height="40"/><rect x="1079" y="711" width="1" height="39"/><rect x="1083" y="713" width="1" height="37"/><rect x="1087" y="718" width="1" height="32"/><rect x="1091" y="721" width="1" height="29"/><rect x="1095" y="724" width="1" height="26"/><rect x="1099" y="726" width="1" height="24"/><rect x="1103" y="728" width="1" height="22"/><rect x="1107" y="729" width="1" height="21"/><rect x="1111" y="728" width="1" height="22"/><rect x="1115" y="728" width="1" height="22"/><rect x="1119" y="726" width="1" height="24"/><rect x="1123" y="724" width="1" height="26"/><rect x="1127" y="727" width="1" height="23"/><rect x="1131" y="730" width="1" height="20"/><rect x="1135" y="733" width="1" height="17"/><rect x="1139" y="734" width="1" height="16"/><rect x="1143" y="737" width="1" height="13"/><rect x="1147" y="740" width="1" height="10"/><rect x="1151" y="742" width="1" height="8"/><rect x="1155" y="741" width="1" height="9"/><rect x="1159" y="741" width="1" height="9"/><rect x="1163" y="742" width="1" height="8"/><rect x="1167" y="742" width="1" height="8"/><rect x="1171" y="742" width="1" height="8"/><rect x="1175" y="743" width="1" height="7"/><rect x="1179" y="744" width="1" height="6"/><rect x="1183" y="744" width="1" height="6"/><rect x="1187" y="744" width="1" height="6"/><rect x="1191" y="748" width="1" height="2"/><rect x="1195" y="749" width="1" height="4"/><rect x="1199" y="749" width="1" height="8"/><rect x="1203" y="749" width="1" height="12"/><rect x="1207" y="749" width="1" height="16"/><rect x="1211" y="749" width="1" height="19"/><rect x="1215" y="749" width="1" height="20"/><rect x="1219" y="749" width="1" height="19"/><rect x="1223" y="749" width="1" height="17"/><rect x="1227" y="749" width="1" height="15"/><rect x="1231" y="749" width="1" height="14"/><rect x="1235" y="749" width="1" height="13"/><rect x="1239" y="749" width="1" height="10"/><rect x="1243" y="749" width="1" height="8"/><rect x="1247" y="749" width="1" height="7"/><rect x="1251" y="749" width="1" height="6"/><rect x="1255" y="749" width="1" height="3"/><rect x="1259" y="748" width="1" height="2"/><rect x="1263" y="747" width="1" height="3"/><rect x="1267" y="746" width="1" height="4"/></g><polyline clip-path="url(#cd)" points="3.5,759.7 7.5,758.1 11.5,756.5 15.5,755.1 19.5,753.8 23.5,752.5 27.5,750.5 31.5,748.5 35.5,746.1 39.5,744.0 43.5,742.1 47.5,740.4 51.5,738.9 55.5,737.7 59.5,736.9 63.5,736.5 67.5,736.5 71.5,736.8 75.5,737.1 79.5,737.4 83.5,737.5 87.5,737.6 91.5,737.8 95.5,738.1 99.5,738.6 103.5,739.5 107.5,740.7 111.5,742.2 115.5,744.0 119.5,746.1 123.5,748.3 127.5,750.1 131.5,751.6 135.5,752.7 139.5,753.2 143.5,753.4 147.5,753.4 151.5,753.3 155.5,753.1 159.5,752.8 163.5,752.8 167.5,752.9 171.5,753.2 175.5,753.6 179.5,754.0 183.5,754.3 187.5,754.3 191.5,754.0 195.5,753.4 199.5,752.7 203.5,751.9 207.5,751.0 211.5,750.1 215.5,749.1 219.5,748.1 223.5,747.2 227.5,746.3 231.5,745.6 235.5,744.6 239.5,743.6 243.5,742.8 247.5,742.2 251.5,741.8 255.5,741.8 259.5,742.0 263.5,742.3 267.5,742.9 271.5,743.3 275.5,743.5 279.5,743.4 283.5,742.9 287.5,742.0 291.5,741.0 295.5,740.1 299.5,739.1 303.5,738.1 307.5,737.6 311.5,737.5 315.5,737.9 319.5,738.8 323.5,740.0 327.5,741.3 331.5,742.5 335.5,743.5 339.5,744.7 343.5,745.8 347.5,746.8 351.5,747.7 355.5,748.5 359.5,749.3 363.5,750.2 367.5,751.3 371.5,752.6 375.5,754.1 379.5,755.5 383.5,756.8 387.5,758.0 391.5,758.8 395.5,759.4 399.5,759.6 403.5,759.6 407.5,759.7 411.5,759.7 415.5,759.7 419.5,759.8 423.5,760.2 427.5,761.0 431.5,762.2 435.5,763.8 439.5,765.6 443.5,767.4 447.5,769.2 451.5,770.9 455.5,772.6 459.5,774.0 463.5,775.1 467.5,775.8 471.5,776.0 475.5,775.8 479.5,775.2 483.5,773.9 487.5,772.0 491.5,769.3 495.5,765.8 499.5,761.6 503.5,757.1 507.5,752.3 511.5,746.8 515.5,740.9 519.5,734.7 523.5,728.6 527.5,723.2 531.5,719.5 535.5,717.3 539.5,716.2 543.5,715.9 547.5,717.3 551.5,720.6 555.5,726.2 559.5,733.3 563.5,741.4 567.5,749.0 571.5,756.0 575.5,762.3 579.5,767.5 583.5,771.0 587.5,772.4 591.5,772.1 595.5,770.3 599.5,767.6 603.5,765.0 607.5,762.7 611.5,760.9 615.5,760.1 619.5,760.1 623.5,760.9 627.5,761.7 631.5,762.4 635.5,762.8 639.5,762.8 643.5,762.0 647.5,760.8 651.5,759.7 655.5,758.7 659.5,757.7 663.5,757.1 667.5,756.9 671.5,757.1 675.5,757.4 679.5,758.3 683.5,759.3 687.5,759.9 691.5,760.5 695.5,760.9 699.5,760.8 703.5,760.0 707.5,758.8 711.5,757.3 715.5,755.9 719.5,754.7 723.5,753.8 727.5,752.9 731.5,752.3 735.5,752.1 739.5,752.5 743.5,753.3 747.5,754.2 751.5,755.1 755.5,755.6 759.5,755.6 763.5,755.3 767.5,754.4 771.5,753.2 775.5,752.1 779.5,750.9 783.5,749.6 787.5,748.0 791.5,746.2 795.5,744.2 799.5,742.0 803.5,740.0 807.5,737.9 811.5,735.3 815.5,732.2 819.5,728.4 823.5,724.4 827.5,720.3 831.5,716.7 835.5,713.3 839.5,710.1 843.5,707.0 847.5,704.8 851.5,703.7 855.5,703.5 859.5,704.0 863.5,705.2 867.5,706.9 871.5,709.3 875.5,712.3 879.5,715.5 883.5,718.1 887.5,720.4 891.5,722.7 895.5,724.9 899.5,726.9 903.5,728.7 907.5,730.1 911.5,731.1 915.5,732.2 919.5,733.6 923.5,735.0 927.5,735.9 931.5,736.4 935.5,736.6 939.5,736.7 943.5,736.6 947.5,736.5 951.5,736.1 955.5,735.3 959.5,734.2 963.5,733.1 967.5,731.9 971.5,730.7 975.5,729.5 979.5,728.1 983.5,726.2 987.5,723.9 991.5,721.7 995.5,719.3 999.5,716.6 1003.5,713.8 1007.5,710.8 1011.5,707.5 1015.5,704.2 1019.5,701.4 1023.5,699.3 1027.5,697.7 1031.5,696.1 1035.5,695.0 1039.5,694.6 1043.5,694.9 1047.5,695.9 1051.5,697.5 1055.5,699.3 1059.5,701.0 1063.5,702.6 1067.5,704.6 1071.5,706.7 1075.5,708.2 1079.5,709.4 1083.5,710.4 1087.5,711.6 1091.5,713.0 1095.5,714.5 1099.5,716.2 1103.5,717.9 1107.5,719.9 1111.5,721.8 1115.5,723.7 1119.5,725.1 1123.5,725.9 1127.5,726.5 1131.5,727.3 1135.5,728.1 1139.5,728.8 1143.5,729.7 1147.5,731.0 1151.5,732.5 1155.5,734.2 1159.5,736.1 1163.5,737.7 1167.5,739.0 1171.5,740.1 1175.5,741.0 1179.5,741.9 1183.5,742.4 1187.5,742.7 1191.5,743.5 1195.5,744.7 1199.5,746.3 1203.5,748.3 1207.5,750.8 1211.5,753.4 1215.5,756.1 1219.5,758.6 1223.5,760.9 1227.5,762.5 1231.5,763.6 1235.5,764.1 1239.5,763.9 1243.5,763.0 1247.5,761.6 1251.5,760.1 1255.5,758.3 1259.5,756.5 1263.5,754.7 1267.5,753.0" fill="none" stroke="#ff0000" stroke-width="1" shape-rendering="crispEdges" stroke-dasharray="3,3"/></svg><svg style="position:absolute;left:6px;top:31px" width="8" height="5"><path d="M0 0h7l-3.5 4z" fill="#000"/></svg><div class="t" style="left:1601px;top:44px;font-size:10px;color:#000;letter-spacing:-0.56px;">1.20155</div><div class="t" style="left:1601px;top:77px;font-size:10px;color:#000;letter-spacing:-0.56px;">1.19280</div><div class="t" style="left:1601px;top:110px;font-size:10px;color:#000;letter-spacing:-0.56px;">1.18405</div><div class="t" style="left:1601px;top:143px;font-size:10px;color:#000;letter-spacing:-0.56px;">1.17530</div><div class="t" style="left:1601px;top:176px;font-size:10px;color:#000;letter-spacing:-0.56px;">1.16655</div><div class="t" style="left:1601px;top:209px;font-size:10px;color:#000;letter-spacing:-0.56px;">1.15755</div><div class="t" style="left:1601px;top:242px;font-size:10px;color:#000;letter-spacing:-0.56px;">1.14880</div><div class="t" style="left:1601px;top:275px;font-size:10px;color:#000;letter-spacing:-0.56px;">1.14005</div><div class="t" style="left:1601px;top:308px;font-size:10px;color:#000;letter-spacing:-0.56px;">1.13130</div><div class="t" style="left:1601px;top:341px;font-size:10px;color:#000;letter-spacing:-0.56px;">1.12255</div><div class="t" style="left:1601px;top:374px;font-size:10px;color:#000;letter-spacing:-0.56px;">1.11380</div><div class="t" style="left:1601px;top:407px;font-size:10px;color:#000;letter-spacing:-0.56px;">1.10480</div><div class="t" style="left:1601px;top:440px;font-size:10px;color:#000;letter-spacing:-0.56px;">1.09605</div><div class="t" style="left:1601px;top:473px;font-size:10px;color:#000;letter-spacing:-0.56px;">1.08730</div><div class="t" style="left:1601px;top:506px;font-size:10px;color:#000;letter-spacing:-0.56px;">1.07855</div><div class="t" style="left:1601px;top:539px;font-size:10px;color:#000;letter-spacing:-0.56px;">1.06980</div><div class="t" style="left:1601px;top:572px;font-size:10px;color:#000;letter-spacing:-0.56px;">1.06105</div><div class="t" style="left:1598.5px;top:584px;font-size:10px;color:#000;letter-spacing:-0.56px;">100</div><div class="t" style="left:1598.5px;top:608px;font-size:10px;color:#000;letter-spacing:-0.56px;">70</div><div class="t" style="left:1598.5px;top:648px;font-size:10px;color:#000;letter-spacing:-0.56px;">30</div><div class="t" style="left:1598.5px;top:672px;font-size:10px;color:#000;letter-spacing:-0.56px;">0</div><div class="t" style="left:1599px;top:689px;font-size:10px;color:#000;letter-spacing:-0.56px;">0.014556</div><div class="t" style="left:1599px;top:744px;font-size:10px;color:#000;letter-spacing:-0.56px;">0.00</div><div class="t" style="left:1598.5px;top:776px;font-size:10px;color:#000;letter-spacing:-0.56px;">-0.009001</div><div class="t" style="left:2px;top:791px;font-size:10px;color:#000;letter-spacing:-0.35px;">10 Oct 2019</div><div class="t" style="left:66px;top:791px;font-size:10px;color:#000;letter-spacing:-0.35px;">29 Oct 2019</div><div class="t" style="left:130px;top:791px;font-size:10px;color:#000;letter-spacing:-0.35px;">16 Nov 2019</div><div class="t" style="left:194px;top:791px;font-size:10px;color:#000;letter-spacing:-0.35px;">5 Dec 2019</div><div class="t" style="left:258px;top:791px;font-size:10px;color:#000;letter-spacing:-0.35px;">24 Dec 2019</div><div class="t" style="left:322px;top:791px;font-size:10px;color:#000;letter-spacing:-0.35px;">11 Jan 2020</div><div class="t" style="left:386px;top:791px;font-size:10px;color:#000;letter-spacing:-0.35px;">30 Jan 2020</div><div class="t" style="left:450px;top:791px;font-size:10px;color:#000;letter-spacing:-0.35px;">18 Feb 2020</div><div class="t" style="left:514px;top:791px;font-size:10px;color:#000;letter-spacing:-0.35px;">7 Mar 2020</div><div class="t" style="left:578px;top:791px;font-size:10px;color:#000;letter-spacing:-0.35px;">26 Mar 2020</div><div class="t" style="left:642px;top:791px;font-size:10px;color:#000;letter-spacing:-0.35px;">14 Apr 2020</div><div class="t" style="left:706px;top:791px;font-size:10px;color:#000;letter-spacing:-0.35px;">2 May 2020</div><div class="t" style="left:770px;top:791px;font-size:10px;color:#000;letter-spacing:-0.35px;">21 May 2020</div><div class="t" style="left:834px;top:791px;font-size:10px;color:#000;letter-spacing:-0.35px;">9 Jun 2020</div><div class="t" style="left:898px;top:791px;font-size:10px;color:#000;letter-spacing:-0.35px;">27 Jun 2020</div><div class="t" style="left:962px;top:791px;font-size:10px;color:#000;letter-spacing:-0.35px;">16 Jul 2020</div><div class="t" style="left:1026px;top:791px;font-size:10px;color:#000;letter-spacing:-0.35px;">4 Aug 2020</div><div class="t" style="left:1090px;top:791px;font-size:10px;color:#000;letter-spacing:-0.35px;">22 Aug 2020</div><div class="t" style="left:1154px;top:791px;font-size:10px;color:#000;letter-spacing:-0.35px;">10 Sep 2020</div><div class="t" style="left:1218px;top:791px;font-size:10px;color:#000;letter-spacing:-0.35px;">29 Sep 2020</div><div class="t" style="left:17.5px;top:27px;font-size:10px;color:#000;letter-spacing:-0.25px;">EURUSD,Daily</div><div class="t" style="left:88px;top:27px;font-size:10px;color:#000;letter-spacing:-0.37px;">1.18042 1.18146 1.17934 1.17965</div><div class="t" style="left:6.5px;top:586px;font-size:10px;color:#000;letter-spacing:-0.24px;">RSI(14) 53.9147</div><div class="t" style="left:6.5px;top:690px;font-size:10px;color:#000;letter-spacing:-0.29px;">MACD(12,26,9) 0.000625 -0.000952</div><div class="lb" style="top:127px;background:#000000">1.17965</div><div class="lb" style="top:48px;background:#ff0000">1.20019</div><div class="lb" style="top:86px;background:#ff0000">1.19008</div><div class="lb" style="top:123px;background:#00ff00">1.18024</div><div class="lb" style="top:161px;background:#0000ff">1.17014</div><div class="lb" style="top:199px;background:#0000ff">1.16003</div><div id="tabs"></div><div style="position:absolute;left:0;top:808px;width:1639px;height:1px;background:#e3e3e3"></div><div style="position:absolute;left:0;top:809px;width:1639px;height:1px;background:#fff"></div><div style="position:absolute;left:0;top:810px;width:1639px;height:1px;background:#000"></div><div style="position:absolute;left:0;top:811px;width:1639px;height:1px;background:#fafafa"></div><div style="position:absolute;left:4px;top:810px;width:104px;height:19px;background:#fff;border:1px solid #000;border-top:none"></div><div class="tab" style="left:16px;color:#000">EURUSD,Daily</div><div style="position:absolute;left:0;top:830px;width:1639px;height:1px;background:#fff"></div><div style="position:absolute;left:0;top:834px;width:1639px;height:1px;background:#a0a0a0"></div><div style="position:absolute;left:0;top:835px;width:1639px;height:3px;background:#fff"></div><div class="tab" style="left:118.0px">USDCHF,Daily</div><div class="tab" style="left:218.5px">AUDUSD,Daily</div><div class="tab" style="left:323.0px">USDCAD,Daily</div><div class="tab" style="left:426.5px">USDCNH,Daily</div><div class="tab" style="left:532.0px">EURUSD,Daily</div><div class="tab" style="left:635.8px">GBPUSD,H4</div><div class="tab" style="left:726.8px">XAUUSD,H1</div><div class="tab" style="left:819.1px">HK50,H1</div><div class="tab" style="left:891.0px">UK100,H1</div><div class="tab" style="left:971.0px">UK100,H1</div><div class="tab" style="left:1050.8px">GER30,H1</div><div class="tab" style="left:1130.3px">FRA40,H1</div><div class="tab" style="left:1206.3px">USOil,H4</div><div class="tab" style="left:1278.0px">USDJPY,H1</div><div class="tab" style="left:1361.5px">DJ30,Daily</div><div class="tab" style="left:1442.1px">CHINA300,H1</div><div class="tab" style="left:1542.1px">USOil,H1</div><div class="sep" style="left:209px"></div><div class="sep" style="left:313px"></div><div class="sep" style="left:417px"></div><div class="sep" style="left:521px"></div><div class="sep" style="left:625px"></div><div class="sep" style="left:717px"></div><div class="sep" style="left:808px"></div><div class="sep" style="left:881px"></div><div class="sep" style="left:961px"></div><div class="sep" style="left:1041px"></div><div class="sep" style="left:1121px"></div><div class="sep" style="left:1197px"></div><div class="sep" style="left:1269px"></div><div class="sep" style="left:1353px"></div><div class="sep" style="left:1433px"></div><div class="sep" style="left:1533px"></div><div class="sep" style="left:1605px"></div><svg style="position:absolute;left:1609px;top:814px" width="30" height="14"><path d="M6 2v8l-4-4z" fill="#a0a0a0"/><path d="M20 2v8l4-4z" fill="#000"/></svg></body></html>
